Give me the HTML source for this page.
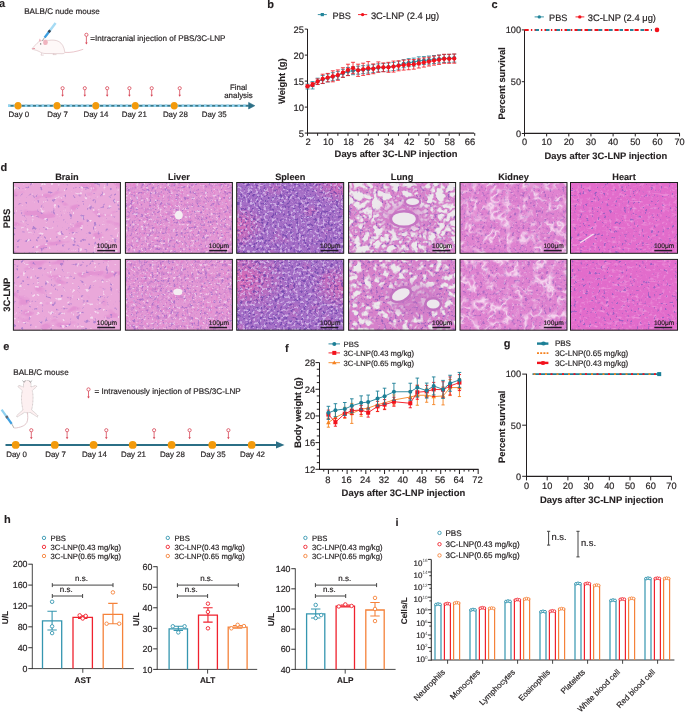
<!DOCTYPE html>
<html><head><meta charset="utf-8"><style>
html,body{margin:0;padding:0;background:#fff;}
svg{display:block;font-family:"Liberation Sans", sans-serif;will-change:transform;text-rendering:geometricPrecision;}
</style></head><body>
<svg width="685" height="715" viewBox="0 0 685 715">
<defs><filter id="soft3" x="-30%" y="-30%" width="160%" height="160%"><feGaussianBlur stdDeviation="3"/></filter><filter id="softb" x="-5%" y="-5%" width="110%" height="110%"><feGaussianBlur stdDeviation="0.45"/></filter><clipPath id="cp00"><rect x="13.4" y="182.5" width="107.0" height="70.8"/></clipPath><filter id="f1" filterUnits="userSpaceOnUse" x="11.4" y="180.5" width="111.0" height="74.8" color-interpolation-filters="sRGB"><feTurbulence type="fractalNoise" baseFrequency="0.06 0.1" numOctaves="2" seed="11"/><feColorMatrix type="matrix" values="0 0 0 0 0.878 0 0 0 0 0.529 0 0 0 0 0.816 8.000 0 0 0 -4.800"/></filter><filter id="f2" filterUnits="userSpaceOnUse" x="11.4" y="180.5" width="111.0" height="74.8" color-interpolation-filters="sRGB"><feTurbulence type="fractalNoise" baseFrequency="0.247" numOctaves="2" seed="12"/><feColorMatrix type="matrix" values="0 0 0 0 0.647 0 0 0 0 0.471 0 0 0 0 0.804 8.000 0 0 0 -5.120"/></filter><filter id="f3" filterUnits="userSpaceOnUse" x="11.4" y="180.5" width="111.0" height="74.8" color-interpolation-filters="sRGB"><feTurbulence type="fractalNoise" baseFrequency="0.225" numOctaves="2" seed="13"/><feColorMatrix type="matrix" values="0 0 0 0 0.980 0 0 0 0 0.933 0 0 0 0 0.973 9.000 0 0 0 -6.030"/></filter><clipPath id="cp10"><rect x="125.4" y="182.5" width="107.0" height="70.8"/></clipPath><filter id="f4" filterUnits="userSpaceOnUse" x="123.4" y="180.5" width="111.0" height="74.8" color-interpolation-filters="sRGB"><feTurbulence type="fractalNoise" baseFrequency="0.25" numOctaves="2" seed="11"/><feColorMatrix type="matrix" values="0 0 0 0 0.725 0 0 0 0 0.451 0 0 0 0 0.784 5.000 0 0 0 -2.750"/></filter><filter id="f5" filterUnits="userSpaceOnUse" x="123.4" y="180.5" width="111.0" height="74.8" color-interpolation-filters="sRGB"><feTurbulence type="fractalNoise" baseFrequency="0.375" numOctaves="2" seed="14"/><feColorMatrix type="matrix" values="0 0 0 0 0.910 0 0 0 0 0.471 0 0 0 0 0.784 6.000 0 0 0 -3.360"/></filter><filter id="f6" filterUnits="userSpaceOnUse" x="123.4" y="180.5" width="111.0" height="74.8" color-interpolation-filters="sRGB"><feTurbulence type="fractalNoise" baseFrequency="0.375" numOctaves="2" seed="12"/><feColorMatrix type="matrix" values="0 0 0 0 0.627 0 0 0 0 0.412 0 0 0 0 0.784 6.000 0 0 0 -3.480"/></filter><filter id="f7" filterUnits="userSpaceOnUse" x="123.4" y="180.5" width="111.0" height="74.8" color-interpolation-filters="sRGB"><feTurbulence type="fractalNoise" baseFrequency="0.375" numOctaves="2" seed="13"/><feColorMatrix type="matrix" values="0 0 0 0 0.965 0 0 0 0 0.886 0 0 0 0 0.957 6.000 0 0 0 -3.600"/></filter><clipPath id="cp20"><rect x="236.7" y="182.5" width="107.0" height="70.8"/></clipPath><radialGradient id="spg0a" cx="0" cy="0.6" r="0.28" gradientTransform="translate(0 0) scale(1 1)"><stop offset="0" stop-color="#e46cb4" stop-opacity="0.95"/><stop offset="1" stop-color="#e46cb4" stop-opacity="0"/></radialGradient><radialGradient id="spg0b" cx="1" cy="0" r="0.35"><stop offset="0" stop-color="#e46cb4" stop-opacity="0.85"/><stop offset="1" stop-color="#e46cb4" stop-opacity="0"/></radialGradient><filter id="f8" filterUnits="userSpaceOnUse" x="234.7" y="180.5" width="111.0" height="74.8" color-interpolation-filters="sRGB"><feTurbulence type="fractalNoise" baseFrequency="0.06" numOctaves="2" seed="11"/><feColorMatrix type="matrix" values="0 0 0 0 0.882 0 0 0 0 0.431 0 0 0 0 0.725 4.000 0 0 0 -2.400"/></filter><filter id="f9" filterUnits="userSpaceOnUse" x="234.7" y="180.5" width="111.0" height="74.8" color-interpolation-filters="sRGB"><feTurbulence type="fractalNoise" baseFrequency="0.375" numOctaves="2" seed="12"/><feColorMatrix type="matrix" values="0 0 0 0 0.412 0 0 0 0 0.255 0 0 0 0 0.667 6.000 0 0 0 -3.180"/></filter><filter id="f10" filterUnits="userSpaceOnUse" x="234.7" y="180.5" width="111.0" height="74.8" color-interpolation-filters="sRGB"><feTurbulence type="fractalNoise" baseFrequency="0.375" numOctaves="2" seed="13"/><feColorMatrix type="matrix" values="0 0 0 0 0.871 0 0 0 0 0.776 0 0 0 0 0.941 6.000 0 0 0 -3.180"/></filter><clipPath id="cp30"><rect x="348.6" y="182.5" width="107.0" height="70.8"/></clipPath><filter id="f11" filterUnits="userSpaceOnUse" x="346.6" y="180.5" width="111.0" height="74.8" color-interpolation-filters="sRGB"><feTurbulence type="fractalNoise" baseFrequency="0.375" numOctaves="2" seed="14"/><feColorMatrix type="matrix" values="0 0 0 0 0.910 0 0 0 0 0.471 0 0 0 0 0.765 6.000 0 0 0 -3.360"/></filter><filter id="f12" filterUnits="userSpaceOnUse" x="346.6" y="180.5" width="111.0" height="74.8" color-interpolation-filters="sRGB"><feTurbulence type="fractalNoise" baseFrequency="0.375" numOctaves="2" seed="12"/><feColorMatrix type="matrix" values="0 0 0 0 0.549 0 0 0 0 0.353 0 0 0 0 0.737 6.000 0 0 0 -3.420"/></filter><filter id="f13" filterUnits="userSpaceOnUse" x="346.6" y="180.5" width="111.0" height="74.8" color-interpolation-filters="sRGB"><feTurbulence type="fractalNoise" baseFrequency="0.11" numOctaves="3" seed="11"/><feColorMatrix type="matrix" values="0 0 0 0 0.925 0 0 0 0 0.91 0 0 0 0 0.925 1 0 0 0 0"/><feComponentTransfer><feFuncA type="table" tableValues="1 1 1 1 1 1 0.5 0 0 0.5 1 1 1 1 1 1"/></feComponentTransfer></filter><clipPath id="cp40"><rect x="460.0" y="182.5" width="107.0" height="70.8"/></clipPath><filter id="f14" filterUnits="userSpaceOnUse" x="458.0" y="180.5" width="111.0" height="74.8" color-interpolation-filters="sRGB"><feTurbulence type="fractalNoise" baseFrequency="0.25" numOctaves="2" seed="14"/><feColorMatrix type="matrix" values="0 0 0 0 0.784 0 0 0 0 0.431 0 0 0 0 0.784 5.000 0 0 0 -2.700"/></filter><filter id="f15" filterUnits="userSpaceOnUse" x="458.0" y="180.5" width="111.0" height="74.8" color-interpolation-filters="sRGB"><feTurbulence type="fractalNoise" baseFrequency="0.375" numOctaves="2" seed="12"/><feColorMatrix type="matrix" values="0 0 0 0 0.588 0 0 0 0 0.373 0 0 0 0 0.745 6.000 0 0 0 -3.480"/></filter><filter id="f16" filterUnits="userSpaceOnUse" x="458.0" y="180.5" width="111.0" height="74.8" color-interpolation-filters="sRGB"><feTurbulence type="fractalNoise" baseFrequency="0.12" numOctaves="2" seed="11"/><feColorMatrix type="matrix" values="0 0 0 0 0.98 0 0 0 0 0.9 0 0 0 0 0.96 1 0 0 0 0"/><feComponentTransfer result="band"><feFuncA type="table" tableValues="0 0 0 0 0 0.35 0.85 0.35 0 0 0 0 0"/></feComponentTransfer><feTurbulence type="fractalNoise" baseFrequency="0.09" numOctaves="1" seed="15"/><feColorMatrix type="matrix" values="0 0 0 0 0 0 0 0 0 0 0 0 0 0 0 6 0 0 0 -2.6" result="m2"/><feComposite in="band" in2="m2" operator="in"/></filter><filter id="f17" filterUnits="userSpaceOnUse" x="458.0" y="180.5" width="111.0" height="74.8" color-interpolation-filters="sRGB"><feTurbulence type="fractalNoise" baseFrequency="0.375" numOctaves="2" seed="13"/><feColorMatrix type="matrix" values="0 0 0 0 0.941 0 0 0 0 0.824 0 0 0 0 0.933 6.000 0 0 0 -3.720"/></filter><clipPath id="cp50"><rect x="570.5" y="182.5" width="107.0" height="70.8"/></clipPath><filter id="f18" filterUnits="userSpaceOnUse" x="568.5" y="180.5" width="111.0" height="74.8" color-interpolation-filters="sRGB"><feTurbulence type="fractalNoise" baseFrequency="0.338" numOctaves="2" seed="13"/><feColorMatrix type="matrix" values="0 0 0 0 0.941 0 0 0 0 0.627 0 0 0 0 0.882 5.000 0 0 0 -2.750"/></filter><filter id="f19" filterUnits="userSpaceOnUse" x="568.5" y="180.5" width="111.0" height="74.8" color-interpolation-filters="sRGB"><feTurbulence type="fractalNoise" baseFrequency="0.1 0.3" numOctaves="2" seed="11"/><feColorMatrix type="matrix" values="0 0 0 0 0.957 0 0 0 0 0.706 0 0 0 0 0.902 6.000 0 0 0 -3.840"/></filter><filter id="f20" filterUnits="userSpaceOnUse" x="568.5" y="180.5" width="111.0" height="74.8" color-interpolation-filters="sRGB"><feTurbulence type="fractalNoise" baseFrequency="0.338" numOctaves="2" seed="12"/><feColorMatrix type="matrix" values="0 0 0 0 0.549 0 0 0 0 0.373 0 0 0 0 0.765 9.000 0 0 0 -5.760"/></filter><clipPath id="cp01"><rect x="13.4" y="259.4" width="107.0" height="70.8"/></clipPath><filter id="f21" filterUnits="userSpaceOnUse" x="11.4" y="257.4" width="111.0" height="74.8" color-interpolation-filters="sRGB"><feTurbulence type="fractalNoise" baseFrequency="0.06 0.1" numOctaves="2" seed="18"/><feColorMatrix type="matrix" values="0 0 0 0 0.878 0 0 0 0 0.529 0 0 0 0 0.816 8.000 0 0 0 -4.800"/></filter><filter id="f22" filterUnits="userSpaceOnUse" x="11.4" y="257.4" width="111.0" height="74.8" color-interpolation-filters="sRGB"><feTurbulence type="fractalNoise" baseFrequency="0.247" numOctaves="2" seed="19"/><feColorMatrix type="matrix" values="0 0 0 0 0.647 0 0 0 0 0.471 0 0 0 0 0.804 8.000 0 0 0 -5.120"/></filter><filter id="f23" filterUnits="userSpaceOnUse" x="11.4" y="257.4" width="111.0" height="74.8" color-interpolation-filters="sRGB"><feTurbulence type="fractalNoise" baseFrequency="0.225" numOctaves="2" seed="20"/><feColorMatrix type="matrix" values="0 0 0 0 0.980 0 0 0 0 0.933 0 0 0 0 0.973 9.000 0 0 0 -6.030"/></filter><clipPath id="cp11"><rect x="125.4" y="259.4" width="107.0" height="70.8"/></clipPath><filter id="f24" filterUnits="userSpaceOnUse" x="123.4" y="257.4" width="111.0" height="74.8" color-interpolation-filters="sRGB"><feTurbulence type="fractalNoise" baseFrequency="0.25" numOctaves="2" seed="18"/><feColorMatrix type="matrix" values="0 0 0 0 0.725 0 0 0 0 0.451 0 0 0 0 0.784 5.000 0 0 0 -2.750"/></filter><filter id="f25" filterUnits="userSpaceOnUse" x="123.4" y="257.4" width="111.0" height="74.8" color-interpolation-filters="sRGB"><feTurbulence type="fractalNoise" baseFrequency="0.375" numOctaves="2" seed="21"/><feColorMatrix type="matrix" values="0 0 0 0 0.910 0 0 0 0 0.471 0 0 0 0 0.784 6.000 0 0 0 -3.360"/></filter><filter id="f26" filterUnits="userSpaceOnUse" x="123.4" y="257.4" width="111.0" height="74.8" color-interpolation-filters="sRGB"><feTurbulence type="fractalNoise" baseFrequency="0.375" numOctaves="2" seed="19"/><feColorMatrix type="matrix" values="0 0 0 0 0.627 0 0 0 0 0.412 0 0 0 0 0.784 6.000 0 0 0 -3.480"/></filter><filter id="f27" filterUnits="userSpaceOnUse" x="123.4" y="257.4" width="111.0" height="74.8" color-interpolation-filters="sRGB"><feTurbulence type="fractalNoise" baseFrequency="0.375" numOctaves="2" seed="20"/><feColorMatrix type="matrix" values="0 0 0 0 0.965 0 0 0 0 0.886 0 0 0 0 0.957 6.000 0 0 0 -3.600"/></filter><clipPath id="cp21"><rect x="236.7" y="259.4" width="107.0" height="70.8"/></clipPath><radialGradient id="spg1a" cx="0.05" cy="0.3" r="0.42"><stop offset="0" stop-color="#e46cb4" stop-opacity="0.9"/><stop offset="1" stop-color="#e46cb4" stop-opacity="0"/></radialGradient><radialGradient id="spg1b" cx="1" cy="0.4" r="0.32"><stop offset="0" stop-color="#e46cb4" stop-opacity="0.8"/><stop offset="1" stop-color="#e46cb4" stop-opacity="0"/></radialGradient><filter id="f28" filterUnits="userSpaceOnUse" x="234.7" y="257.4" width="111.0" height="74.8" color-interpolation-filters="sRGB"><feTurbulence type="fractalNoise" baseFrequency="0.06" numOctaves="2" seed="18"/><feColorMatrix type="matrix" values="0 0 0 0 0.882 0 0 0 0 0.431 0 0 0 0 0.725 4.000 0 0 0 -2.400"/></filter><filter id="f29" filterUnits="userSpaceOnUse" x="234.7" y="257.4" width="111.0" height="74.8" color-interpolation-filters="sRGB"><feTurbulence type="fractalNoise" baseFrequency="0.375" numOctaves="2" seed="19"/><feColorMatrix type="matrix" values="0 0 0 0 0.412 0 0 0 0 0.255 0 0 0 0 0.667 6.000 0 0 0 -3.180"/></filter><filter id="f30" filterUnits="userSpaceOnUse" x="234.7" y="257.4" width="111.0" height="74.8" color-interpolation-filters="sRGB"><feTurbulence type="fractalNoise" baseFrequency="0.375" numOctaves="2" seed="20"/><feColorMatrix type="matrix" values="0 0 0 0 0.871 0 0 0 0 0.776 0 0 0 0 0.941 6.000 0 0 0 -3.180"/></filter><clipPath id="cp31"><rect x="348.6" y="259.4" width="107.0" height="70.8"/></clipPath><filter id="f31" filterUnits="userSpaceOnUse" x="346.6" y="257.4" width="111.0" height="74.8" color-interpolation-filters="sRGB"><feTurbulence type="fractalNoise" baseFrequency="0.375" numOctaves="2" seed="21"/><feColorMatrix type="matrix" values="0 0 0 0 0.910 0 0 0 0 0.471 0 0 0 0 0.765 6.000 0 0 0 -3.360"/></filter><filter id="f32" filterUnits="userSpaceOnUse" x="346.6" y="257.4" width="111.0" height="74.8" color-interpolation-filters="sRGB"><feTurbulence type="fractalNoise" baseFrequency="0.375" numOctaves="2" seed="19"/><feColorMatrix type="matrix" values="0 0 0 0 0.549 0 0 0 0 0.353 0 0 0 0 0.737 6.000 0 0 0 -3.420"/></filter><filter id="f33" filterUnits="userSpaceOnUse" x="346.6" y="257.4" width="111.0" height="74.8" color-interpolation-filters="sRGB"><feTurbulence type="fractalNoise" baseFrequency="0.11" numOctaves="3" seed="18"/><feColorMatrix type="matrix" values="0 0 0 0 0.925 0 0 0 0 0.91 0 0 0 0 0.925 1 0 0 0 0"/><feComponentTransfer><feFuncA type="table" tableValues="1 1 1 1 1 0.5 0 0 0 0.5 1 1 1 1 1"/></feComponentTransfer></filter><clipPath id="cp41"><rect x="460.0" y="259.4" width="107.0" height="70.8"/></clipPath><filter id="f34" filterUnits="userSpaceOnUse" x="458.0" y="257.4" width="111.0" height="74.8" color-interpolation-filters="sRGB"><feTurbulence type="fractalNoise" baseFrequency="0.25" numOctaves="2" seed="21"/><feColorMatrix type="matrix" values="0 0 0 0 0.784 0 0 0 0 0.431 0 0 0 0 0.784 5.000 0 0 0 -2.700"/></filter><filter id="f35" filterUnits="userSpaceOnUse" x="458.0" y="257.4" width="111.0" height="74.8" color-interpolation-filters="sRGB"><feTurbulence type="fractalNoise" baseFrequency="0.375" numOctaves="2" seed="19"/><feColorMatrix type="matrix" values="0 0 0 0 0.588 0 0 0 0 0.373 0 0 0 0 0.745 6.000 0 0 0 -3.480"/></filter><filter id="f36" filterUnits="userSpaceOnUse" x="458.0" y="257.4" width="111.0" height="74.8" color-interpolation-filters="sRGB"><feTurbulence type="fractalNoise" baseFrequency="0.12" numOctaves="2" seed="18"/><feColorMatrix type="matrix" values="0 0 0 0 0.98 0 0 0 0 0.9 0 0 0 0 0.96 1 0 0 0 0"/><feComponentTransfer result="band"><feFuncA type="table" tableValues="0 0 0 0 0 0.35 0.85 0.35 0 0 0 0 0"/></feComponentTransfer><feTurbulence type="fractalNoise" baseFrequency="0.09" numOctaves="1" seed="22"/><feColorMatrix type="matrix" values="0 0 0 0 0 0 0 0 0 0 0 0 0 0 0 6 0 0 0 -2.6" result="m2"/><feComposite in="band" in2="m2" operator="in"/></filter><filter id="f37" filterUnits="userSpaceOnUse" x="458.0" y="257.4" width="111.0" height="74.8" color-interpolation-filters="sRGB"><feTurbulence type="fractalNoise" baseFrequency="0.375" numOctaves="2" seed="20"/><feColorMatrix type="matrix" values="0 0 0 0 0.941 0 0 0 0 0.824 0 0 0 0 0.933 6.000 0 0 0 -3.720"/></filter><clipPath id="cp51"><rect x="570.5" y="259.4" width="107.0" height="70.8"/></clipPath><filter id="f38" filterUnits="userSpaceOnUse" x="568.5" y="257.4" width="111.0" height="74.8" color-interpolation-filters="sRGB"><feTurbulence type="fractalNoise" baseFrequency="0.338" numOctaves="2" seed="20"/><feColorMatrix type="matrix" values="0 0 0 0 0.941 0 0 0 0 0.627 0 0 0 0 0.882 5.000 0 0 0 -2.750"/></filter><filter id="f39" filterUnits="userSpaceOnUse" x="568.5" y="257.4" width="111.0" height="74.8" color-interpolation-filters="sRGB"><feTurbulence type="fractalNoise" baseFrequency="0.1 0.3" numOctaves="2" seed="18"/><feColorMatrix type="matrix" values="0 0 0 0 0.957 0 0 0 0 0.706 0 0 0 0 0.902 6.000 0 0 0 -3.840"/></filter><filter id="f40" filterUnits="userSpaceOnUse" x="568.5" y="257.4" width="111.0" height="74.8" color-interpolation-filters="sRGB"><feTurbulence type="fractalNoise" baseFrequency="0.338" numOctaves="2" seed="19"/><feColorMatrix type="matrix" values="0 0 0 0 0.549 0 0 0 0 0.373 0 0 0 0 0.765 9.000 0 0 0 -5.760"/></filter></defs>
<rect width="685" height="715" fill="#fff"/>
<text x="-1.00" y="6.60" font-size="11" font-weight="bold" stroke="#231f20" stroke-width="0.12" text-anchor="start" fill="#231f20">a</text>
<text x="267.30" y="7.90" font-size="11" font-weight="bold" stroke="#231f20" stroke-width="0.12" text-anchor="start" fill="#231f20">b</text>
<text x="491.60" y="8.00" font-size="11" font-weight="bold" stroke="#231f20" stroke-width="0.12" text-anchor="start" fill="#231f20">c</text>
<text x="0.40" y="171.00" font-size="11" font-weight="bold" stroke="#231f20" stroke-width="0.12" text-anchor="start" fill="#231f20">d</text>
<text x="3.20" y="350.20" font-size="11" font-weight="bold" stroke="#231f20" stroke-width="0.12" text-anchor="start" fill="#231f20">e</text>
<text x="284.90" y="352.10" font-size="11" font-weight="bold" stroke="#231f20" stroke-width="0.12" text-anchor="start" fill="#231f20">f</text>
<text x="503.80" y="346.60" font-size="11" font-weight="bold" stroke="#231f20" stroke-width="0.12" text-anchor="start" fill="#231f20">g</text>
<text x="4.00" y="523.20" font-size="11" font-weight="bold" stroke="#231f20" stroke-width="0.12" text-anchor="start" fill="#231f20">h</text>
<text x="395.60" y="525.70" font-size="11" font-weight="bold" stroke="#231f20" stroke-width="0.12" text-anchor="start" fill="#231f20">i</text>
<text x="24.20" y="14.00" font-size="8.1" stroke="#231f20" stroke-width="0.18" text-anchor="start" fill="#231f20">BALB/C nude mouse</text>
<circle cx="86.40" cy="34.80" r="1.6" fill="none" stroke="#d84858" stroke-width="0.8"/>
<line x1="86.40" y1="36.40" x2="86.40" y2="43.40" stroke="#d84858" stroke-width="0.8"/>
<path d="M85.10 42.60 L87.70 42.60 L86.40 44.60Z" fill="#d84858"/>
<text x="90.30" y="41.10" font-size="8.1" stroke="#231f20" stroke-width="0.18" text-anchor="start" fill="#231f20">=Intracranial injection of PBS/3C-LNP</text>
<g stroke="#c9a3a8" stroke-width="0.45" fill="#fef8f8">
<path d="M31.9 48.9 C34 46.5 36.5 43.5 39 41.6 C42 40.2 46 40.0 48.5 40.4 C52 39.8 56 39.9 59 41.6 C62 43.3 64.2 47 64.9 52.6 C64.5 53.4 63.5 53.7 62 53.7 L45 53.5 C43 53.4 41 52.8 39.4 51.6 C37.5 50.6 35.5 49.9 33.5 49.6 Z"/>
<path d="M65.2 52.4 C70 52.8 76 51.8 83.2 49.3" fill="none" stroke="#dba0a8" stroke-width="0.6"/>
<path d="M41.6 53.2 L41 55.2 L43.8 55.1 M53.6 53.6 L53 54.6 L56.5 54.6" fill="none"/>
</g>
<ellipse cx="45.5" cy="42.4" rx="2.3" ry="2.6" fill="#f0b4bf"/>
<path d="M38.8 41.3 L39.6 38.6 L41.4 40.8Z" fill="#f0b4bf"/>
<circle cx="40.7" cy="43.9" r="0.6" fill="#444"/>
<path d="M32.3 48.8 L35 48.4" stroke="#e48a9a" stroke-width="0.9"/>
<line x1="55.6" y1="23.1" x2="49.6" y2="31.0" stroke="#a6dbf4" stroke-width="2.4"/>
<line x1="49.6" y1="31.0" x2="44.6" y2="37.6" stroke="#3d9fe0" stroke-width="2.4"/>
<line x1="50.2" y1="30.2" x2="48.6" y2="32.3" stroke="#3a4a5a" stroke-width="2.5"/>
<line x1="44.6" y1="37.6" x2="42.3" y2="40.7" stroke="#777" stroke-width="0.7"/>

<line x1="8.00" y1="105.70" x2="249.00" y2="105.70" stroke="#357a8e" stroke-width="2.0"/>
<line x1="8" y1="105.7" x2="249" y2="105.7" stroke="#8fd3ef" stroke-width="2.6" stroke-dasharray="2.5 3.1"/>
<path d="M248.6 102.4 L254.8 105.7 L248.6 109.0Z" fill="#2b6f86" stroke="#2b6f86" stroke-width="0.6" stroke-linejoin="round"/>
<ellipse cx="18" cy="105.7" rx="3.5" ry="3.8" fill="#f39a0b"/>
<ellipse cx="57" cy="105.7" rx="3.5" ry="3.8" fill="#f39a0b"/>
<ellipse cx="95.8" cy="105.7" rx="3.5" ry="3.8" fill="#f39a0b"/>
<ellipse cx="135.3" cy="105.7" rx="3.5" ry="3.8" fill="#f39a0b"/>
<ellipse cx="174.2" cy="105.7" rx="3.5" ry="3.8" fill="#f39a0b"/>
<text x="18.90" y="117.00" font-size="7.9" stroke="#231f20" stroke-width="0.18" text-anchor="middle" fill="#231f20">Day 0</text>
<text x="57.50" y="117.00" font-size="7.9" stroke="#231f20" stroke-width="0.18" text-anchor="middle" fill="#231f20">Day 7</text>
<text x="96.00" y="117.00" font-size="7.9" stroke="#231f20" stroke-width="0.18" text-anchor="middle" fill="#231f20">Day 14</text>
<text x="134.30" y="117.00" font-size="7.9" stroke="#231f20" stroke-width="0.18" text-anchor="middle" fill="#231f20">Day 21</text>
<text x="175.40" y="117.00" font-size="7.9" stroke="#231f20" stroke-width="0.18" text-anchor="middle" fill="#231f20">Day 28</text>
<text x="214.20" y="117.00" font-size="7.9" stroke="#231f20" stroke-width="0.18" text-anchor="middle" fill="#231f20">Day 35</text>
<circle cx="62.60" cy="88.20" r="1.6" fill="none" stroke="#d84858" stroke-width="0.8"/>
<line x1="62.60" y1="89.80" x2="62.60" y2="95.50" stroke="#d84858" stroke-width="0.8"/>
<path d="M61.30 94.70 L63.90 94.70 L62.60 96.70Z" fill="#d84858"/>
<circle cx="84.80" cy="88.20" r="1.6" fill="none" stroke="#d84858" stroke-width="0.8"/>
<line x1="84.80" y1="89.80" x2="84.80" y2="95.50" stroke="#d84858" stroke-width="0.8"/>
<path d="M83.50 94.70 L86.10 94.70 L84.80 96.70Z" fill="#d84858"/>
<circle cx="107.20" cy="88.20" r="1.6" fill="none" stroke="#d84858" stroke-width="0.8"/>
<line x1="107.20" y1="89.80" x2="107.20" y2="95.50" stroke="#d84858" stroke-width="0.8"/>
<path d="M105.90 94.70 L108.50 94.70 L107.20 96.70Z" fill="#d84858"/>
<circle cx="129.40" cy="88.20" r="1.6" fill="none" stroke="#d84858" stroke-width="0.8"/>
<line x1="129.40" y1="89.80" x2="129.40" y2="95.50" stroke="#d84858" stroke-width="0.8"/>
<path d="M128.10 94.70 L130.70 94.70 L129.40 96.70Z" fill="#d84858"/>
<circle cx="151.70" cy="88.20" r="1.6" fill="none" stroke="#d84858" stroke-width="0.8"/>
<line x1="151.70" y1="89.80" x2="151.70" y2="95.50" stroke="#d84858" stroke-width="0.8"/>
<path d="M150.40 94.70 L153.00 94.70 L151.70 96.70Z" fill="#d84858"/>
<circle cx="179.70" cy="88.20" r="1.6" fill="none" stroke="#d84858" stroke-width="0.8"/>
<line x1="179.70" y1="89.80" x2="179.70" y2="95.50" stroke="#d84858" stroke-width="0.8"/>
<path d="M178.40 94.70 L181.00 94.70 L179.70 96.70Z" fill="#d84858"/>
<text x="238.50" y="89.70" font-size="7.9" stroke="#231f20" stroke-width="0.18" text-anchor="middle" fill="#231f20">Final</text>
<text x="238.50" y="97.50" font-size="7.9" stroke="#231f20" stroke-width="0.18" text-anchor="middle" fill="#231f20">analysis</text>
<line x1="307.50" y1="29.00" x2="307.50" y2="133.70" stroke="#231f20" stroke-width="1.0"/>
<line x1="307.00" y1="133.10" x2="474.10" y2="133.10" stroke="#231f20" stroke-width="1.2"/>
<line x1="304.80" y1="133.10" x2="307.50" y2="133.10" stroke="#231f20" stroke-width="1.0"/>
<text x="303.90" y="136.50" font-size="9.4" stroke="#231f20" stroke-width="0.18" text-anchor="end" fill="#231f20">5</text>
<line x1="304.80" y1="107.10" x2="307.50" y2="107.10" stroke="#231f20" stroke-width="1.0"/>
<text x="303.90" y="110.50" font-size="9.4" stroke="#231f20" stroke-width="0.18" text-anchor="end" fill="#231f20">10</text>
<line x1="304.80" y1="81.10" x2="307.50" y2="81.10" stroke="#231f20" stroke-width="1.0"/>
<text x="303.90" y="84.50" font-size="9.4" stroke="#231f20" stroke-width="0.18" text-anchor="end" fill="#231f20">15</text>
<line x1="304.80" y1="55.10" x2="307.50" y2="55.10" stroke="#231f20" stroke-width="1.0"/>
<text x="303.90" y="58.50" font-size="9.4" stroke="#231f20" stroke-width="0.18" text-anchor="end" fill="#231f20">20</text>
<line x1="304.80" y1="29.10" x2="307.50" y2="29.10" stroke="#231f20" stroke-width="1.0"/>
<text x="303.90" y="32.50" font-size="9.4" stroke="#231f20" stroke-width="0.18" text-anchor="end" fill="#231f20">25</text>
<line x1="307.50" y1="133.10" x2="307.50" y2="135.80" stroke="#231f20" stroke-width="1.0"/>
<line x1="317.62" y1="133.10" x2="317.62" y2="135.80" stroke="#231f20" stroke-width="1.0"/>
<line x1="327.74" y1="133.10" x2="327.74" y2="135.80" stroke="#231f20" stroke-width="1.0"/>
<line x1="337.86" y1="133.10" x2="337.86" y2="135.80" stroke="#231f20" stroke-width="1.0"/>
<line x1="347.98" y1="133.10" x2="347.98" y2="135.80" stroke="#231f20" stroke-width="1.0"/>
<line x1="358.10" y1="133.10" x2="358.10" y2="135.80" stroke="#231f20" stroke-width="1.0"/>
<line x1="368.22" y1="133.10" x2="368.22" y2="135.80" stroke="#231f20" stroke-width="1.0"/>
<line x1="378.34" y1="133.10" x2="378.34" y2="135.80" stroke="#231f20" stroke-width="1.0"/>
<line x1="388.46" y1="133.10" x2="388.46" y2="135.80" stroke="#231f20" stroke-width="1.0"/>
<line x1="398.58" y1="133.10" x2="398.58" y2="135.80" stroke="#231f20" stroke-width="1.0"/>
<line x1="408.70" y1="133.10" x2="408.70" y2="135.80" stroke="#231f20" stroke-width="1.0"/>
<line x1="418.82" y1="133.10" x2="418.82" y2="135.80" stroke="#231f20" stroke-width="1.0"/>
<line x1="428.94" y1="133.10" x2="428.94" y2="135.80" stroke="#231f20" stroke-width="1.0"/>
<line x1="439.06" y1="133.10" x2="439.06" y2="135.80" stroke="#231f20" stroke-width="1.0"/>
<line x1="449.18" y1="133.10" x2="449.18" y2="135.80" stroke="#231f20" stroke-width="1.0"/>
<line x1="459.30" y1="133.10" x2="459.30" y2="135.80" stroke="#231f20" stroke-width="1.0"/>
<line x1="474.73" y1="133.10" x2="474.73" y2="135.80" stroke="#231f20" stroke-width="1.0"/>
<text x="308.10" y="145.00" font-size="9.4" stroke="#231f20" stroke-width="0.18" text-anchor="middle" fill="#231f20">2</text>
<text x="328.34" y="145.00" font-size="9.4" stroke="#231f20" stroke-width="0.18" text-anchor="middle" fill="#231f20">10</text>
<text x="348.58" y="145.00" font-size="9.4" stroke="#231f20" stroke-width="0.18" text-anchor="middle" fill="#231f20">18</text>
<text x="368.82" y="145.00" font-size="9.4" stroke="#231f20" stroke-width="0.18" text-anchor="middle" fill="#231f20">26</text>
<text x="389.06" y="145.00" font-size="9.4" stroke="#231f20" stroke-width="0.18" text-anchor="middle" fill="#231f20">34</text>
<text x="409.30" y="145.00" font-size="9.4" stroke="#231f20" stroke-width="0.18" text-anchor="middle" fill="#231f20">42</text>
<text x="429.54" y="145.00" font-size="9.4" stroke="#231f20" stroke-width="0.18" text-anchor="middle" fill="#231f20">50</text>
<text x="449.78" y="145.00" font-size="9.4" stroke="#231f20" stroke-width="0.18" text-anchor="middle" fill="#231f20">58</text>
<text x="470.02" y="145.00" font-size="9.4" stroke="#231f20" stroke-width="0.18" text-anchor="middle" fill="#231f20">66</text>
<text x="396.00" y="156.60" font-size="9.4" font-weight="bold" stroke="#231f20" stroke-width="0.12" text-anchor="middle" fill="#231f20">Days after 3C-LNP injection</text>
<text x="284.70" y="81.20" font-size="9.4" font-weight="bold" stroke="#231f20" stroke-width="0.12" text-anchor="middle" fill="#231f20" transform="rotate(-90 284.7 81.2)">Weight (g)</text>
<polyline points="307.50,86.56 312.56,85.26 317.62,81.36 322.68,79.54 327.74,77.98 332.80,76.68 337.86,75.38 342.92,73.30 347.98,71.48 353.04,70.70 358.10,70.18 363.16,69.66 368.22,69.14 373.28,68.62 378.34,67.84 383.40,67.58 388.46,67.06 393.52,66.54 398.58,65.24 403.64,63.68 408.70,62.64 413.76,62.12 418.82,60.82 423.88,60.56 428.94,60.04 434.00,59.52 439.06,59.00 444.12,58.48 449.18,58.32 454.24,58.12" fill="none" stroke="#23869b" stroke-width="0.9"/>
<path d="M307.50 84.06V89.06M305.50 84.06H309.50M305.50 89.06H309.50" stroke="#23869b" stroke-width="0.8" fill="none"/>
<circle cx="307.50" cy="86.56" r="2.0" fill="#23869b"/>
<path d="M312.56 81.56V88.96M310.56 81.56H314.56M310.56 88.96H314.56" stroke="#23869b" stroke-width="0.8" fill="none"/>
<circle cx="312.56" cy="85.26" r="2.0" fill="#23869b"/>
<path d="M317.62 78.16V84.56M315.62 78.16H319.62M315.62 84.56H319.62" stroke="#23869b" stroke-width="0.8" fill="none"/>
<circle cx="317.62" cy="81.36" r="2.0" fill="#23869b"/>
<path d="M322.68 75.54V83.54M320.68 75.54H324.68M320.68 83.54H324.68" stroke="#23869b" stroke-width="0.8" fill="none"/>
<circle cx="322.68" cy="79.54" r="2.0" fill="#23869b"/>
<path d="M327.74 73.98V81.98M325.74 73.98H329.74M325.74 81.98H329.74" stroke="#23869b" stroke-width="0.8" fill="none"/>
<circle cx="327.74" cy="77.98" r="2.0" fill="#23869b"/>
<path d="M332.80 72.68V80.68M330.80 72.68H334.80M330.80 80.68H334.80" stroke="#23869b" stroke-width="0.8" fill="none"/>
<circle cx="332.80" cy="76.68" r="2.0" fill="#23869b"/>
<path d="M337.86 71.38V79.38M335.86 71.38H339.86M335.86 79.38H339.86" stroke="#23869b" stroke-width="0.8" fill="none"/>
<circle cx="337.86" cy="75.38" r="2.0" fill="#23869b"/>
<path d="M342.92 69.30V77.30M340.92 69.30H344.92M340.92 77.30H344.92" stroke="#23869b" stroke-width="0.8" fill="none"/>
<circle cx="342.92" cy="73.30" r="2.0" fill="#23869b"/>
<path d="M347.98 67.48V75.48M345.98 67.48H349.98M345.98 75.48H349.98" stroke="#23869b" stroke-width="0.8" fill="none"/>
<circle cx="347.98" cy="71.48" r="2.0" fill="#23869b"/>
<path d="M353.04 66.70V74.70M351.04 66.70H355.04M351.04 74.70H355.04" stroke="#23869b" stroke-width="0.8" fill="none"/>
<circle cx="353.04" cy="70.70" r="2.0" fill="#23869b"/>
<path d="M358.10 66.18V74.18M356.10 66.18H360.10M356.10 74.18H360.10" stroke="#23869b" stroke-width="0.8" fill="none"/>
<circle cx="358.10" cy="70.18" r="2.0" fill="#23869b"/>
<path d="M363.16 65.66V73.66M361.16 65.66H365.16M361.16 73.66H365.16" stroke="#23869b" stroke-width="0.8" fill="none"/>
<circle cx="363.16" cy="69.66" r="2.0" fill="#23869b"/>
<path d="M368.22 65.14V73.14M366.22 65.14H370.22M366.22 73.14H370.22" stroke="#23869b" stroke-width="0.8" fill="none"/>
<circle cx="368.22" cy="69.14" r="2.0" fill="#23869b"/>
<path d="M373.28 64.62V72.62M371.28 64.62H375.28M371.28 72.62H375.28" stroke="#23869b" stroke-width="0.8" fill="none"/>
<circle cx="373.28" cy="68.62" r="2.0" fill="#23869b"/>
<path d="M378.34 63.84V71.84M376.34 63.84H380.34M376.34 71.84H380.34" stroke="#23869b" stroke-width="0.8" fill="none"/>
<circle cx="378.34" cy="67.84" r="2.0" fill="#23869b"/>
<path d="M383.40 63.58V71.58M381.40 63.58H385.40M381.40 71.58H385.40" stroke="#23869b" stroke-width="0.8" fill="none"/>
<circle cx="383.40" cy="67.58" r="2.0" fill="#23869b"/>
<path d="M388.46 63.06V71.06M386.46 63.06H390.46M386.46 71.06H390.46" stroke="#23869b" stroke-width="0.8" fill="none"/>
<circle cx="388.46" cy="67.06" r="2.0" fill="#23869b"/>
<path d="M393.52 62.54V70.54M391.52 62.54H395.52M391.52 70.54H395.52" stroke="#23869b" stroke-width="0.8" fill="none"/>
<circle cx="393.52" cy="66.54" r="2.0" fill="#23869b"/>
<path d="M398.58 61.24V69.24M396.58 61.24H400.58M396.58 69.24H400.58" stroke="#23869b" stroke-width="0.8" fill="none"/>
<circle cx="398.58" cy="65.24" r="2.0" fill="#23869b"/>
<path d="M403.64 59.68V67.68M401.64 59.68H405.64M401.64 67.68H405.64" stroke="#23869b" stroke-width="0.8" fill="none"/>
<circle cx="403.64" cy="63.68" r="2.0" fill="#23869b"/>
<path d="M408.70 58.64V66.64M406.70 58.64H410.70M406.70 66.64H410.70" stroke="#23869b" stroke-width="0.8" fill="none"/>
<circle cx="408.70" cy="62.64" r="2.0" fill="#23869b"/>
<path d="M413.76 58.12V66.12M411.76 58.12H415.76M411.76 66.12H415.76" stroke="#23869b" stroke-width="0.8" fill="none"/>
<circle cx="413.76" cy="62.12" r="2.0" fill="#23869b"/>
<path d="M418.82 56.82V64.82M416.82 56.82H420.82M416.82 64.82H420.82" stroke="#23869b" stroke-width="0.8" fill="none"/>
<circle cx="418.82" cy="60.82" r="2.0" fill="#23869b"/>
<path d="M423.88 56.56V64.56M421.88 56.56H425.88M421.88 64.56H425.88" stroke="#23869b" stroke-width="0.8" fill="none"/>
<circle cx="423.88" cy="60.56" r="2.0" fill="#23869b"/>
<path d="M428.94 56.04V64.04M426.94 56.04H430.94M426.94 64.04H430.94" stroke="#23869b" stroke-width="0.8" fill="none"/>
<circle cx="428.94" cy="60.04" r="2.0" fill="#23869b"/>
<path d="M434.00 55.52V63.52M432.00 55.52H436.00M432.00 63.52H436.00" stroke="#23869b" stroke-width="0.8" fill="none"/>
<circle cx="434.00" cy="59.52" r="2.0" fill="#23869b"/>
<path d="M439.06 55.00V63.00M437.06 55.00H441.06M437.06 63.00H441.06" stroke="#23869b" stroke-width="0.8" fill="none"/>
<circle cx="439.06" cy="59.00" r="2.0" fill="#23869b"/>
<path d="M444.12 54.48V62.48M442.12 54.48H446.12M442.12 62.48H446.12" stroke="#23869b" stroke-width="0.8" fill="none"/>
<circle cx="444.12" cy="58.48" r="2.0" fill="#23869b"/>
<path d="M449.18 54.32V62.32M447.18 54.32H451.18M447.18 62.32H451.18" stroke="#23869b" stroke-width="0.8" fill="none"/>
<circle cx="449.18" cy="58.32" r="2.0" fill="#23869b"/>
<path d="M454.24 54.12V62.12M452.24 54.12H456.24M452.24 62.12H456.24" stroke="#23869b" stroke-width="0.8" fill="none"/>
<circle cx="454.24" cy="58.12" r="2.0" fill="#23869b"/>
<polyline points="307.50,86.30 312.56,84.58 317.62,81.72 322.68,78.81 327.74,77.62 332.80,76.32 337.86,75.12 342.92,72.52 347.98,69.92 353.04,68.00 358.10,70.28 363.16,69.30 368.22,68.10 373.28,68.83 378.34,67.11 383.40,67.32 388.46,67.32 393.52,66.59 398.58,65.81 403.64,65.08 408.70,64.72 413.76,64.36 418.82,63.42 423.88,62.48 428.94,61.60 434.00,60.61 439.06,59.78 444.12,58.79 449.18,58.79 454.24,58.58" fill="none" stroke="#f2121c" stroke-width="0.9"/>
<path d="M307.50 84.80V87.80M305.50 84.80H309.50M305.50 87.80H309.50" stroke="#f2121c" stroke-width="0.8" fill="none"/>
<circle cx="307.50" cy="86.30" r="2.1" fill="#f2121c"/>
<path d="M312.56 82.58V86.58M310.56 82.58H314.56M310.56 86.58H314.56" stroke="#f2121c" stroke-width="0.8" fill="none"/>
<circle cx="312.56" cy="84.58" r="2.1" fill="#f2121c"/>
<path d="M317.62 78.92V84.52M315.62 78.92H319.62M315.62 84.52H319.62" stroke="#f2121c" stroke-width="0.8" fill="none"/>
<circle cx="317.62" cy="81.72" r="2.1" fill="#f2121c"/>
<path d="M322.68 74.21V83.41M320.68 74.21H324.68M320.68 83.41H324.68" stroke="#f2121c" stroke-width="0.8" fill="none"/>
<circle cx="322.68" cy="78.81" r="2.1" fill="#f2121c"/>
<path d="M327.74 73.42V81.82M325.74 73.42H329.74M325.74 81.82H329.74" stroke="#f2121c" stroke-width="0.8" fill="none"/>
<circle cx="327.74" cy="77.62" r="2.1" fill="#f2121c"/>
<path d="M332.80 70.82V81.82M330.80 70.82H334.80M330.80 81.82H334.80" stroke="#f2121c" stroke-width="0.8" fill="none"/>
<circle cx="332.80" cy="76.32" r="2.1" fill="#f2121c"/>
<path d="M337.86 69.92V80.32M335.86 69.92H339.86M335.86 80.32H339.86" stroke="#f2121c" stroke-width="0.8" fill="none"/>
<circle cx="337.86" cy="75.12" r="2.1" fill="#f2121c"/>
<path d="M342.92 67.72V77.32M340.92 67.72H344.92M340.92 77.32H344.92" stroke="#f2121c" stroke-width="0.8" fill="none"/>
<circle cx="342.92" cy="72.52" r="2.1" fill="#f2121c"/>
<path d="M347.98 64.22V75.62M345.98 64.22H349.98M345.98 75.62H349.98" stroke="#f2121c" stroke-width="0.8" fill="none"/>
<circle cx="347.98" cy="69.92" r="2.1" fill="#f2121c"/>
<path d="M353.04 62.30V73.70M351.04 62.30H355.04M351.04 73.70H355.04" stroke="#f2121c" stroke-width="0.8" fill="none"/>
<circle cx="353.04" cy="68.00" r="2.1" fill="#f2121c"/>
<path d="M358.10 64.18V76.38M356.10 64.18H360.10M356.10 76.38H360.10" stroke="#f2121c" stroke-width="0.8" fill="none"/>
<circle cx="358.10" cy="70.28" r="2.1" fill="#f2121c"/>
<path d="M363.16 63.20V75.40M361.16 63.20H365.16M361.16 75.40H365.16" stroke="#f2121c" stroke-width="0.8" fill="none"/>
<circle cx="363.16" cy="69.30" r="2.1" fill="#f2121c"/>
<path d="M368.22 61.60V74.60M366.22 61.60H370.22M366.22 74.60H370.22" stroke="#f2121c" stroke-width="0.8" fill="none"/>
<circle cx="368.22" cy="68.10" r="2.1" fill="#f2121c"/>
<path d="M373.28 63.93V73.73M371.28 63.93H375.28M371.28 73.73H375.28" stroke="#f2121c" stroke-width="0.8" fill="none"/>
<circle cx="373.28" cy="68.83" r="2.1" fill="#f2121c"/>
<path d="M378.34 61.91V72.31M376.34 61.91H380.34M376.34 72.31H380.34" stroke="#f2121c" stroke-width="0.8" fill="none"/>
<circle cx="378.34" cy="67.11" r="2.1" fill="#f2121c"/>
<path d="M383.40 62.92V71.72M381.40 62.92H385.40M381.40 71.72H385.40" stroke="#f2121c" stroke-width="0.8" fill="none"/>
<circle cx="383.40" cy="67.32" r="2.1" fill="#f2121c"/>
<path d="M388.46 62.32V72.32M386.46 62.32H390.46M386.46 72.32H390.46" stroke="#f2121c" stroke-width="0.8" fill="none"/>
<circle cx="388.46" cy="67.32" r="2.1" fill="#f2121c"/>
<path d="M393.52 61.09V72.09M391.52 61.09H395.52M391.52 72.09H395.52" stroke="#f2121c" stroke-width="0.8" fill="none"/>
<circle cx="393.52" cy="66.59" r="2.1" fill="#f2121c"/>
<path d="M398.58 60.81V70.81M396.58 60.81H400.58M396.58 70.81H400.58" stroke="#f2121c" stroke-width="0.8" fill="none"/>
<circle cx="398.58" cy="65.81" r="2.1" fill="#f2121c"/>
<path d="M403.64 60.08V70.08M401.64 60.08H405.64M401.64 70.08H405.64" stroke="#f2121c" stroke-width="0.8" fill="none"/>
<circle cx="403.64" cy="65.08" r="2.1" fill="#f2121c"/>
<path d="M408.70 59.72V69.72M406.70 59.72H410.70M406.70 69.72H410.70" stroke="#f2121c" stroke-width="0.8" fill="none"/>
<circle cx="408.70" cy="64.72" r="2.1" fill="#f2121c"/>
<path d="M413.76 59.56V69.16M411.76 59.56H415.76M411.76 69.16H415.76" stroke="#f2121c" stroke-width="0.8" fill="none"/>
<circle cx="413.76" cy="64.36" r="2.1" fill="#f2121c"/>
<path d="M418.82 58.82V68.02M416.82 58.82H420.82M416.82 68.02H420.82" stroke="#f2121c" stroke-width="0.8" fill="none"/>
<circle cx="418.82" cy="63.42" r="2.1" fill="#f2121c"/>
<path d="M423.88 57.88V67.08M421.88 57.88H425.88M421.88 67.08H425.88" stroke="#f2121c" stroke-width="0.8" fill="none"/>
<circle cx="423.88" cy="62.48" r="2.1" fill="#f2121c"/>
<path d="M428.94 57.20V66.00M426.94 57.20H430.94M426.94 66.00H430.94" stroke="#f2121c" stroke-width="0.8" fill="none"/>
<circle cx="428.94" cy="61.60" r="2.1" fill="#f2121c"/>
<path d="M434.00 56.11V65.11M432.00 56.11H436.00M432.00 65.11H436.00" stroke="#f2121c" stroke-width="0.8" fill="none"/>
<circle cx="434.00" cy="60.61" r="2.1" fill="#f2121c"/>
<path d="M439.06 55.18V64.38M437.06 55.18H441.06M437.06 64.38H441.06" stroke="#f2121c" stroke-width="0.8" fill="none"/>
<circle cx="439.06" cy="59.78" r="2.1" fill="#f2121c"/>
<path d="M444.12 54.29V63.29M442.12 54.29H446.12M442.12 63.29H446.12" stroke="#f2121c" stroke-width="0.8" fill="none"/>
<circle cx="444.12" cy="58.79" r="2.1" fill="#f2121c"/>
<path d="M449.18 54.29V63.29M447.18 54.29H451.18M447.18 63.29H451.18" stroke="#f2121c" stroke-width="0.8" fill="none"/>
<circle cx="449.18" cy="58.79" r="2.1" fill="#f2121c"/>
<path d="M454.24 53.98V63.18M452.24 53.98H456.24M452.24 63.18H456.24" stroke="#f2121c" stroke-width="0.8" fill="none"/>
<circle cx="454.24" cy="58.58" r="2.1" fill="#f2121c"/>
<line x1="317.80" y1="14.60" x2="326.80" y2="14.60" stroke="#23869b" stroke-width="0.9"/>
<rect x="320.7" y="13.0" width="3.2" height="3.2" fill="#23869b"/>
<text x="332.60" y="18.90" font-size="9.2" stroke="#231f20" stroke-width="0.18" text-anchor="start" fill="#231f20">PBS</text>
<line x1="358.00" y1="14.60" x2="367.20" y2="14.60" stroke="#f2121c" stroke-width="0.9"/>
<circle cx="362.6" cy="14.6" r="1.7" fill="#f2121c"/>
<text x="370.90" y="18.90" font-size="9.4" stroke="#231f20" stroke-width="0.18" text-anchor="start" fill="#231f20">3C-LNP (2.4 μg)</text>
<line x1="524.50" y1="29.60" x2="524.50" y2="133.90" stroke="#231f20" stroke-width="1.0"/>
<line x1="524.00" y1="133.40" x2="679.80" y2="133.40" stroke="#231f20" stroke-width="1.2"/>
<line x1="521.80" y1="133.50" x2="524.50" y2="133.50" stroke="#231f20" stroke-width="1.0"/>
<text x="521.00" y="136.80" font-size="9.2" stroke="#231f20" stroke-width="0.18" text-anchor="end" fill="#231f20">0</text>
<line x1="521.80" y1="81.70" x2="524.50" y2="81.70" stroke="#231f20" stroke-width="1.0"/>
<text x="521.00" y="85.00" font-size="9.2" stroke="#231f20" stroke-width="0.18" text-anchor="end" fill="#231f20">50</text>
<line x1="521.80" y1="29.90" x2="524.50" y2="29.90" stroke="#231f20" stroke-width="1.0"/>
<text x="521.00" y="33.20" font-size="9.2" stroke="#231f20" stroke-width="0.18" text-anchor="end" fill="#231f20">100</text>
<line x1="524.50" y1="133.40" x2="524.50" y2="136.40" stroke="#231f20" stroke-width="1.0"/>
<text x="524.50" y="145.30" font-size="9.2" stroke="#231f20" stroke-width="0.18" text-anchor="middle" fill="#231f20">0</text>
<line x1="546.65" y1="133.40" x2="546.65" y2="136.40" stroke="#231f20" stroke-width="1.0"/>
<text x="546.65" y="145.30" font-size="9.2" stroke="#231f20" stroke-width="0.18" text-anchor="middle" fill="#231f20">10</text>
<line x1="568.80" y1="133.40" x2="568.80" y2="136.40" stroke="#231f20" stroke-width="1.0"/>
<text x="568.80" y="145.30" font-size="9.2" stroke="#231f20" stroke-width="0.18" text-anchor="middle" fill="#231f20">20</text>
<line x1="590.95" y1="133.40" x2="590.95" y2="136.40" stroke="#231f20" stroke-width="1.0"/>
<text x="590.95" y="145.30" font-size="9.2" stroke="#231f20" stroke-width="0.18" text-anchor="middle" fill="#231f20">30</text>
<line x1="613.10" y1="133.40" x2="613.10" y2="136.40" stroke="#231f20" stroke-width="1.0"/>
<text x="613.10" y="145.30" font-size="9.2" stroke="#231f20" stroke-width="0.18" text-anchor="middle" fill="#231f20">40</text>
<line x1="635.25" y1="133.40" x2="635.25" y2="136.40" stroke="#231f20" stroke-width="1.0"/>
<text x="635.25" y="145.30" font-size="9.2" stroke="#231f20" stroke-width="0.18" text-anchor="middle" fill="#231f20">50</text>
<line x1="657.40" y1="133.40" x2="657.40" y2="136.40" stroke="#231f20" stroke-width="1.0"/>
<text x="657.40" y="145.30" font-size="9.2" stroke="#231f20" stroke-width="0.18" text-anchor="middle" fill="#231f20">60</text>
<line x1="679.55" y1="133.40" x2="679.55" y2="136.40" stroke="#231f20" stroke-width="1.0"/>
<text x="679.55" y="145.30" font-size="9.2" stroke="#231f20" stroke-width="0.18" text-anchor="middle" fill="#231f20">70</text>
<text x="605.80" y="159.40" font-size="9.4" font-weight="bold" stroke="#231f20" stroke-width="0.12" text-anchor="middle" fill="#231f20">Days after 3C-LNP injection</text>
<text x="505.50" y="83.40" font-size="9.4" font-weight="bold" stroke="#231f20" stroke-width="0.12" text-anchor="middle" fill="#231f20" transform="rotate(-90 505.5 83.4)">Percent survival</text>
<line x1="524.5" y1="29.90" x2="652" y2="29.90" stroke="#f2121c" stroke-width="2" stroke-dasharray="4.2 2.2 1.4 2.2"/>
<line x1="535.5" y1="29.90" x2="652" y2="29.90" stroke="#23869b" stroke-width="2" stroke-dasharray="3.5 7.0" stroke-dashoffset="0"/>
<circle cx="657.0" cy="29.90" r="2.3" fill="#f2121c"/>
<line x1="534.60" y1="16.90" x2="543.90" y2="16.90" stroke="#23869b" stroke-width="0.9"/>
<circle cx="539.3" cy="16.9" r="1.7" fill="#23869b"/>
<text x="549.00" y="20.50" font-size="9.2" stroke="#231f20" stroke-width="0.18" text-anchor="start" fill="#231f20">PBS</text>
<line x1="575.50" y1="16.90" x2="584.30" y2="16.90" stroke="#f2121c" stroke-width="0.9"/>
<circle cx="579.8" cy="16.9" r="1.7" fill="#f2121c"/>
<text x="587.70" y="20.50" font-size="9.4" stroke="#231f20" stroke-width="0.18" text-anchor="start" fill="#231f20">3C-LNP (2.4 μg)</text>
<text x="66.90" y="179.80" font-size="9.2" font-weight="bold" stroke="#231f20" stroke-width="0.12" text-anchor="middle" fill="#231f20">Brain</text>
<text x="178.90" y="179.80" font-size="9.2" font-weight="bold" stroke="#231f20" stroke-width="0.12" text-anchor="middle" fill="#231f20">Liver</text>
<text x="290.20" y="179.80" font-size="9.2" font-weight="bold" stroke="#231f20" stroke-width="0.12" text-anchor="middle" fill="#231f20">Spleen</text>
<text x="402.10" y="179.80" font-size="9.2" font-weight="bold" stroke="#231f20" stroke-width="0.12" text-anchor="middle" fill="#231f20">Lung</text>
<text x="513.50" y="179.80" font-size="9.2" font-weight="bold" stroke="#231f20" stroke-width="0.12" text-anchor="middle" fill="#231f20">Kidney</text>
<text x="624.00" y="179.80" font-size="9.2" font-weight="bold" stroke="#231f20" stroke-width="0.12" text-anchor="middle" fill="#231f20">Heart</text>
<text x="9.70" y="218.40" font-size="9.5" font-weight="bold" stroke="#231f20" stroke-width="0.12" text-anchor="middle" fill="#231f20" transform="rotate(-90 9.7 218.4)">PBS</text>
<text x="9.80" y="294.80" font-size="9.4" font-weight="bold" stroke="#231f20" stroke-width="0.12" text-anchor="middle" fill="#231f20" transform="rotate(-90 9.8 294.8)">3C-LNP</text>
<g clip-path="url(#cp00)"><g filter="url(#softb)">
<rect x="11.4" y="180.5" width="111.0" height="74.8" fill="#eaa8da"/>
<rect x="11.4" y="180.5" width="111.0" height="74.8" filter="url(#f1)" opacity="0.6"/>
<rect x="11.4" y="180.5" width="111.0" height="74.8" filter="url(#f2)" opacity="0.8"/>
<rect x="11.4" y="180.5" width="111.0" height="74.8" filter="url(#f3)" opacity="0.7"/>
</g></g>
<rect x="13.4" y="182.5" width="107.0" height="70.8" fill="none" stroke="#1c1c1c" stroke-width="1.0"/>
<text x="117.10" y="248.30" font-size="6.6" stroke="#231f20" stroke-width="0.18" text-anchor="end" fill="#231f20">100μm</text>
<line x1="97.20" y1="250.60" x2="115.10" y2="250.60" stroke="#241a28" stroke-width="1.5"/>
<g clip-path="url(#cp10)"><g filter="url(#softb)">
<rect x="123.4" y="180.5" width="111.0" height="74.8" fill="#e298d4"/>
<rect x="123.4" y="180.5" width="111.0" height="74.8" filter="url(#f4)" opacity="0.5"/>
<rect x="123.4" y="180.5" width="111.0" height="74.8" filter="url(#f5)" opacity="0.5"/>
<rect x="123.4" y="180.5" width="111.0" height="74.8" filter="url(#f6)" opacity="0.75"/>
<rect x="123.4" y="180.5" width="111.0" height="74.8" filter="url(#f7)" opacity="0.7"/>
<ellipse cx="178.8" cy="215.1" rx="4.0" ry="4.3" fill="#f4eef2"/>
</g></g>
<rect x="125.4" y="182.5" width="107.0" height="70.8" fill="none" stroke="#1c1c1c" stroke-width="1.0"/>
<text x="229.10" y="248.30" font-size="6.6" stroke="#231f20" stroke-width="0.18" text-anchor="end" fill="#231f20">100μm</text>
<line x1="209.20" y1="250.60" x2="227.10" y2="250.60" stroke="#241a28" stroke-width="1.5"/>
<g clip-path="url(#cp20)"><g filter="url(#softb)">
<rect x="234.7" y="180.5" width="111.0" height="74.8" fill="#a56ec6"/>
<rect x="234.7" y="180.5" width="111.0" height="74.8" fill="url(#spg0a)"/>
<rect x="234.7" y="180.5" width="111.0" height="74.8" fill="url(#spg0b)"/>
<rect x="234.7" y="180.5" width="111.0" height="74.8" filter="url(#f8)" opacity="0.4"/>
<rect x="234.7" y="180.5" width="111.0" height="74.8" filter="url(#f9)" opacity="0.75"/>
<rect x="234.7" y="180.5" width="111.0" height="74.8" filter="url(#f10)" opacity="0.75"/>
</g></g>
<rect x="236.7" y="182.5" width="107.0" height="70.8" fill="none" stroke="#1c1c1c" stroke-width="1.0"/>
<text x="340.40" y="248.30" font-size="6.6" stroke="#231f20" stroke-width="0.18" text-anchor="end" fill="#231f20">100μm</text>
<line x1="320.50" y1="250.60" x2="338.40" y2="250.60" stroke="#241a28" stroke-width="1.5"/>
<g clip-path="url(#cp30)"><g filter="url(#softb)">
<rect x="346.6" y="180.5" width="111.0" height="74.8" fill="#d582cb"/>
<rect x="346.6" y="180.5" width="111.0" height="74.8" filter="url(#f11)" opacity="0.5"/>
<rect x="346.6" y="180.5" width="111.0" height="74.8" filter="url(#f12)" opacity="0.8"/>
<rect x="346.6" y="180.5" width="111.0" height="74.8" filter="url(#f13)"/>
<ellipse cx="404" cy="216" rx="24" ry="15" fill="#cf7cc8" opacity="0.45" filter="url(#soft3)"/>
<ellipse cx="404" cy="219" rx="14.5" ry="9" fill="#c575c3"/>
<ellipse cx="404" cy="219" rx="11.8" ry="6.6" fill="#ede8ed"/>
<ellipse cx="412.6" cy="201.7" rx="8.8" ry="5.2" fill="#c575c3"/>
<ellipse cx="412.6" cy="201.7" rx="6.5" ry="3.4" fill="#ede8ed"/>
</g></g>
<rect x="348.6" y="182.5" width="107.0" height="70.8" fill="none" stroke="#1c1c1c" stroke-width="1.0"/>
<text x="452.30" y="248.30" font-size="6.6" stroke="#231f20" stroke-width="0.18" text-anchor="end" fill="#231f20">100μm</text>
<line x1="432.40" y1="250.60" x2="450.30" y2="250.60" stroke="#241a28" stroke-width="1.5"/>
<g clip-path="url(#cp40)"><g filter="url(#softb)">
<rect x="458.0" y="180.5" width="111.0" height="74.8" fill="#e084d0"/>
<rect x="458.0" y="180.5" width="111.0" height="74.8" filter="url(#f14)" opacity="0.45"/>
<rect x="458.0" y="180.5" width="111.0" height="74.8" filter="url(#f15)" opacity="0.65"/>
<rect x="458.0" y="180.5" width="111.0" height="74.8" filter="url(#f16)"/>
<rect x="458.0" y="180.5" width="111.0" height="74.8" filter="url(#f17)" opacity="0.5"/>
</g></g>
<rect x="460.0" y="182.5" width="107.0" height="70.8" fill="none" stroke="#1c1c1c" stroke-width="1.0"/>
<text x="563.70" y="248.30" font-size="6.6" stroke="#231f20" stroke-width="0.18" text-anchor="end" fill="#231f20">100μm</text>
<line x1="543.80" y1="250.60" x2="561.70" y2="250.60" stroke="#241a28" stroke-width="1.5"/>
<g clip-path="url(#cp50)"><g filter="url(#softb)">
<rect x="568.5" y="180.5" width="111.0" height="74.8" fill="#e26ccb"/>
<rect x="568.5" y="180.5" width="111.0" height="74.8" filter="url(#f18)" opacity="0.5"/>
<rect x="568.5" y="180.5" width="111.0" height="74.8" filter="url(#f19)" opacity="0.45"/>
<rect x="568.5" y="180.5" width="111.0" height="74.8" filter="url(#f20)" opacity="0.8"/>
<path d="M580.2 242.7 L593.6 234" stroke="#f6e4f2" stroke-width="1.1"/>
</g></g>
<rect x="570.5" y="182.5" width="107.0" height="70.8" fill="none" stroke="#1c1c1c" stroke-width="1.0"/>
<text x="674.20" y="248.30" font-size="6.6" stroke="#231f20" stroke-width="0.18" text-anchor="end" fill="#231f20">100μm</text>
<line x1="654.30" y1="250.60" x2="672.20" y2="250.60" stroke="#241a28" stroke-width="1.5"/>
<g clip-path="url(#cp01)"><g filter="url(#softb)">
<rect x="11.4" y="257.4" width="111.0" height="74.8" fill="#eaa8da"/>
<rect x="11.4" y="257.4" width="111.0" height="74.8" filter="url(#f21)" opacity="0.6"/>
<rect x="11.4" y="257.4" width="111.0" height="74.8" filter="url(#f22)" opacity="0.8"/>
<rect x="11.4" y="257.4" width="111.0" height="74.8" filter="url(#f23)" opacity="0.7"/>
</g></g>
<rect x="13.4" y="259.4" width="107.0" height="70.8" fill="none" stroke="#1c1c1c" stroke-width="1.0"/>
<text x="117.10" y="325.20" font-size="6.6" stroke="#231f20" stroke-width="0.18" text-anchor="end" fill="#231f20">100μm</text>
<line x1="97.20" y1="327.50" x2="115.10" y2="327.50" stroke="#241a28" stroke-width="1.5"/>
<g clip-path="url(#cp11)"><g filter="url(#softb)">
<rect x="123.4" y="257.4" width="111.0" height="74.8" fill="#e298d4"/>
<rect x="123.4" y="257.4" width="111.0" height="74.8" filter="url(#f24)" opacity="0.5"/>
<rect x="123.4" y="257.4" width="111.0" height="74.8" filter="url(#f25)" opacity="0.5"/>
<rect x="123.4" y="257.4" width="111.0" height="74.8" filter="url(#f26)" opacity="0.75"/>
<rect x="123.4" y="257.4" width="111.0" height="74.8" filter="url(#f27)" opacity="0.7"/>
<ellipse cx="177.8" cy="291.9" rx="4.6" ry="3.2" fill="#f4eef2"/>
</g></g>
<rect x="125.4" y="259.4" width="107.0" height="70.8" fill="none" stroke="#1c1c1c" stroke-width="1.0"/>
<text x="229.10" y="325.20" font-size="6.6" stroke="#231f20" stroke-width="0.18" text-anchor="end" fill="#231f20">100μm</text>
<line x1="209.20" y1="327.50" x2="227.10" y2="327.50" stroke="#241a28" stroke-width="1.5"/>
<g clip-path="url(#cp21)"><g filter="url(#softb)">
<rect x="234.7" y="257.4" width="111.0" height="74.8" fill="#a56ec6"/>
<rect x="234.7" y="257.4" width="111.0" height="74.8" fill="url(#spg1a)"/>
<rect x="234.7" y="257.4" width="111.0" height="74.8" fill="url(#spg1b)"/>
<rect x="234.7" y="257.4" width="111.0" height="74.8" filter="url(#f28)" opacity="0.4"/>
<rect x="234.7" y="257.4" width="111.0" height="74.8" filter="url(#f29)" opacity="0.75"/>
<rect x="234.7" y="257.4" width="111.0" height="74.8" filter="url(#f30)" opacity="0.75"/>
</g></g>
<rect x="236.7" y="259.4" width="107.0" height="70.8" fill="none" stroke="#1c1c1c" stroke-width="1.0"/>
<text x="340.40" y="325.20" font-size="6.6" stroke="#231f20" stroke-width="0.18" text-anchor="end" fill="#231f20">100μm</text>
<line x1="320.50" y1="327.50" x2="338.40" y2="327.50" stroke="#241a28" stroke-width="1.5"/>
<g clip-path="url(#cp31)"><g filter="url(#softb)">
<rect x="346.6" y="257.4" width="111.0" height="74.8" fill="#d582cb"/>
<rect x="346.6" y="257.4" width="111.0" height="74.8" filter="url(#f31)" opacity="0.5"/>
<rect x="346.6" y="257.4" width="111.0" height="74.8" filter="url(#f32)" opacity="0.8"/>
<rect x="346.6" y="257.4" width="111.0" height="74.8" filter="url(#f33)"/>
<ellipse cx="412" cy="298" rx="26" ry="16" fill="#c878c4" opacity="0.45" filter="url(#soft3)"/>
<ellipse cx="400.8" cy="294.5" rx="12" ry="7.8" fill="#c172c0" transform="rotate(-25 400.8 294.5)"/>
<ellipse cx="400.8" cy="294.5" rx="9.5" ry="5.4" fill="#ede8ed" transform="rotate(-25 400.8 294.5)"/>
<ellipse cx="433.2" cy="304" rx="9" ry="7" fill="#c172c0"/>
<ellipse cx="433.2" cy="304" rx="6.5" ry="4.5" fill="#ede8ed"/>
</g></g>
<rect x="348.6" y="259.4" width="107.0" height="70.8" fill="none" stroke="#1c1c1c" stroke-width="1.0"/>
<text x="452.30" y="325.20" font-size="6.6" stroke="#231f20" stroke-width="0.18" text-anchor="end" fill="#231f20">100μm</text>
<line x1="432.40" y1="327.50" x2="450.30" y2="327.50" stroke="#241a28" stroke-width="1.5"/>
<g clip-path="url(#cp41)"><g filter="url(#softb)">
<rect x="458.0" y="257.4" width="111.0" height="74.8" fill="#e084d0"/>
<rect x="458.0" y="257.4" width="111.0" height="74.8" filter="url(#f34)" opacity="0.45"/>
<rect x="458.0" y="257.4" width="111.0" height="74.8" filter="url(#f35)" opacity="0.65"/>
<rect x="458.0" y="257.4" width="111.0" height="74.8" filter="url(#f36)"/>
<rect x="458.0" y="257.4" width="111.0" height="74.8" filter="url(#f37)" opacity="0.5"/>
</g></g>
<rect x="460.0" y="259.4" width="107.0" height="70.8" fill="none" stroke="#1c1c1c" stroke-width="1.0"/>
<text x="563.70" y="325.20" font-size="6.6" stroke="#231f20" stroke-width="0.18" text-anchor="end" fill="#231f20">100μm</text>
<line x1="543.80" y1="327.50" x2="561.70" y2="327.50" stroke="#241a28" stroke-width="1.5"/>
<g clip-path="url(#cp51)"><g filter="url(#softb)">
<rect x="568.5" y="257.4" width="111.0" height="74.8" fill="#e26ccb"/>
<rect x="568.5" y="257.4" width="111.0" height="74.8" filter="url(#f38)" opacity="0.5"/>
<rect x="568.5" y="257.4" width="111.0" height="74.8" filter="url(#f39)" opacity="0.45"/>
<rect x="568.5" y="257.4" width="111.0" height="74.8" filter="url(#f40)" opacity="0.8"/>
</g></g>
<rect x="570.5" y="259.4" width="107.0" height="70.8" fill="none" stroke="#1c1c1c" stroke-width="1.0"/>
<text x="674.20" y="325.20" font-size="6.6" stroke="#231f20" stroke-width="0.18" text-anchor="end" fill="#231f20">100μm</text>
<line x1="654.30" y1="327.50" x2="672.20" y2="327.50" stroke="#241a28" stroke-width="1.5"/>
<text x="13.30" y="375.00" font-size="8.1" stroke="#231f20" stroke-width="0.18" text-anchor="start" fill="#231f20">BALB/C mouse</text>
<g stroke="#8a8080" stroke-width="0.4" stroke-dasharray="0.9 0.5" fill="#fdf0f1">
<path d="M24.2 381.2 C25.5 380.2 28.5 380.2 30.2 381.2 C31 382.5 31.2 384.5 31 387 L35.2 385.6 C36.3 385.3 37 386.3 36.3 387 L32.2 390.6 C32.9 393 33.2 396 33 399.5 C32.9 403 32.4 407 31.6 409.8 L37.6 415.2 C38.4 416 38 417.2 37 416.8 L30 412.3 C28.5 413 26.2 413 24.8 412.3 L17.6 416.8 C16.6 417.2 16.2 416 17 415.2 L23 409.8 C22.2 407 21.6 403 21.5 399.5 C21.4 396 21.7 393 22.4 390.6 L18.3 387 C17.6 386.3 18.3 385.3 19.4 385.6 L23.6 387 C23.4 384.5 23.5 382.5 24.2 381.2Z"/>
</g>
<path d="M27.4 412.6 C27.8 416 28.2 419.5 26.8 422.5 C25 426 20 427.6 14.5 428.1" fill="none" stroke="#d8b8bc" stroke-width="0.8"/>
<path d="M22.3 380.5 L24.3 382.3 L25.5 380.6 M29 380.6 L30.2 382.3 L32.2 380.5" stroke="#666" stroke-width="0.45" fill="none"/>
<line x1="1.6" y1="409.7" x2="6.2" y2="416.2" stroke="#8fd0ef" stroke-width="2.3"/>
<line x1="6.2" y1="416.2" x2="11.7" y2="423.8" stroke="#3d9fe0" stroke-width="2.3"/>
<line x1="6.2" y1="416.0" x2="7.6" y2="418.0" stroke="#5a6a78" stroke-width="2.4"/>
<line x1="11.7" y1="423.8" x2="14.1" y2="428.1" stroke="#777" stroke-width="0.6"/>

<circle cx="88.50" cy="389.40" r="1.6" fill="none" stroke="#d84858" stroke-width="0.8"/>
<line x1="88.50" y1="391.00" x2="88.50" y2="397.30" stroke="#d84858" stroke-width="0.8"/>
<path d="M87.20 396.50 L89.80 396.50 L88.50 398.50Z" fill="#d84858"/>
<text x="94.60" y="394.40" font-size="8.14" stroke="#231f20" stroke-width="0.18" text-anchor="start" fill="#231f20">= Intravenously injection of PBS/3C-LNP</text>
<line x1="5.50" y1="444.90" x2="277.00" y2="444.90" stroke="#2b6f86" stroke-width="2.0"/>
<path d="M276 441.29999999999995 L284.5 444.9 L276 448.5Z" fill="#2b6f86"/>
<circle cx="15.7" cy="444.9" r="3.9" fill="#f39a0b"/>
<circle cx="54.8" cy="444.9" r="3.9" fill="#f39a0b"/>
<circle cx="93.6" cy="444.9" r="3.9" fill="#f39a0b"/>
<circle cx="132.7" cy="444.9" r="3.9" fill="#f39a0b"/>
<circle cx="171.6" cy="444.9" r="3.9" fill="#f39a0b"/>
<circle cx="212.3" cy="444.9" r="3.9" fill="#f39a0b"/>
<circle cx="251.7" cy="444.9" r="3.9" fill="#f39a0b"/>
<text x="16.50" y="456.90" font-size="7.9" stroke="#231f20" stroke-width="0.18" text-anchor="middle" fill="#231f20">Day 0</text>
<text x="55.60" y="456.90" font-size="7.9" stroke="#231f20" stroke-width="0.18" text-anchor="middle" fill="#231f20">Day 7</text>
<text x="94.40" y="456.90" font-size="7.9" stroke="#231f20" stroke-width="0.18" text-anchor="middle" fill="#231f20">Day 14</text>
<text x="133.50" y="456.90" font-size="7.9" stroke="#231f20" stroke-width="0.18" text-anchor="middle" fill="#231f20">Day 21</text>
<text x="172.40" y="456.90" font-size="7.9" stroke="#231f20" stroke-width="0.18" text-anchor="middle" fill="#231f20">Day 28</text>
<text x="213.10" y="456.90" font-size="7.9" stroke="#231f20" stroke-width="0.18" text-anchor="middle" fill="#231f20">Day 35</text>
<text x="252.50" y="456.90" font-size="7.9" stroke="#231f20" stroke-width="0.18" text-anchor="middle" fill="#231f20">Day 42</text>
<circle cx="31.30" cy="430.20" r="1.6" fill="none" stroke="#d84858" stroke-width="0.8"/>
<line x1="31.30" y1="431.80" x2="31.30" y2="438.00" stroke="#d84858" stroke-width="0.8"/>
<path d="M30.00 437.20 L32.60 437.20 L31.30 439.20Z" fill="#d84858"/>
<circle cx="67.10" cy="430.20" r="1.6" fill="none" stroke="#d84858" stroke-width="0.8"/>
<line x1="67.10" y1="431.80" x2="67.10" y2="438.00" stroke="#d84858" stroke-width="0.8"/>
<path d="M65.80 437.20 L68.40 437.20 L67.10 439.20Z" fill="#d84858"/>
<circle cx="106.30" cy="430.20" r="1.6" fill="none" stroke="#d84858" stroke-width="0.8"/>
<line x1="106.30" y1="431.80" x2="106.30" y2="438.00" stroke="#d84858" stroke-width="0.8"/>
<path d="M105.00 437.20 L107.60 437.20 L106.30 439.20Z" fill="#d84858"/>
<circle cx="154.10" cy="430.20" r="1.6" fill="none" stroke="#d84858" stroke-width="0.8"/>
<line x1="154.10" y1="431.80" x2="154.10" y2="438.00" stroke="#d84858" stroke-width="0.8"/>
<path d="M152.80 437.20 L155.40 437.20 L154.10 439.20Z" fill="#d84858"/>
<circle cx="189.60" cy="430.20" r="1.6" fill="none" stroke="#d84858" stroke-width="0.8"/>
<line x1="189.60" y1="431.80" x2="189.60" y2="438.00" stroke="#d84858" stroke-width="0.8"/>
<path d="M188.30 437.20 L190.90 437.20 L189.60 439.20Z" fill="#d84858"/>
<circle cx="228.40" cy="430.20" r="1.6" fill="none" stroke="#d84858" stroke-width="0.8"/>
<line x1="228.40" y1="431.80" x2="228.40" y2="438.00" stroke="#d84858" stroke-width="0.8"/>
<path d="M227.10 437.20 L229.70 437.20 L228.40 439.20Z" fill="#d84858"/>
<line x1="319.50" y1="362.60" x2="319.50" y2="469.90" stroke="#231f20" stroke-width="1.0"/>
<line x1="319.00" y1="469.30" x2="478.60" y2="469.30" stroke="#231f20" stroke-width="1.2"/>
<line x1="315.50" y1="469.30" x2="319.50" y2="469.30" stroke="#231f20" stroke-width="1.0"/>
<line x1="316.80" y1="462.63" x2="319.50" y2="462.63" stroke="#231f20" stroke-width="1.0"/>
<line x1="316.80" y1="455.96" x2="319.50" y2="455.96" stroke="#231f20" stroke-width="1.0"/>
<line x1="316.80" y1="449.29" x2="319.50" y2="449.29" stroke="#231f20" stroke-width="1.0"/>
<line x1="315.50" y1="442.62" x2="319.50" y2="442.62" stroke="#231f20" stroke-width="1.0"/>
<line x1="316.80" y1="435.95" x2="319.50" y2="435.95" stroke="#231f20" stroke-width="1.0"/>
<line x1="316.80" y1="429.28" x2="319.50" y2="429.28" stroke="#231f20" stroke-width="1.0"/>
<line x1="316.80" y1="422.61" x2="319.50" y2="422.61" stroke="#231f20" stroke-width="1.0"/>
<line x1="315.50" y1="415.94" x2="319.50" y2="415.94" stroke="#231f20" stroke-width="1.0"/>
<line x1="316.80" y1="409.27" x2="319.50" y2="409.27" stroke="#231f20" stroke-width="1.0"/>
<line x1="316.80" y1="402.60" x2="319.50" y2="402.60" stroke="#231f20" stroke-width="1.0"/>
<line x1="316.80" y1="395.93" x2="319.50" y2="395.93" stroke="#231f20" stroke-width="1.0"/>
<line x1="315.50" y1="389.26" x2="319.50" y2="389.26" stroke="#231f20" stroke-width="1.0"/>
<line x1="316.80" y1="382.59" x2="319.50" y2="382.59" stroke="#231f20" stroke-width="1.0"/>
<line x1="316.80" y1="375.92" x2="319.50" y2="375.92" stroke="#231f20" stroke-width="1.0"/>
<line x1="316.80" y1="369.25" x2="319.50" y2="369.25" stroke="#231f20" stroke-width="1.0"/>
<line x1="315.50" y1="362.58" x2="319.50" y2="362.58" stroke="#231f20" stroke-width="1.0"/>
<text x="315.20" y="472.70" font-size="9.4" stroke="#231f20" stroke-width="0.18" text-anchor="end" fill="#231f20">12</text>
<text x="315.20" y="446.02" font-size="9.4" stroke="#231f20" stroke-width="0.18" text-anchor="end" fill="#231f20">16</text>
<text x="315.20" y="419.34" font-size="9.4" stroke="#231f20" stroke-width="0.18" text-anchor="end" fill="#231f20">20</text>
<text x="315.20" y="392.66" font-size="9.4" stroke="#231f20" stroke-width="0.18" text-anchor="end" fill="#231f20">24</text>
<text x="315.20" y="365.98" font-size="9.4" stroke="#231f20" stroke-width="0.18" text-anchor="end" fill="#231f20">28</text>
<line x1="323.72" y1="469.30" x2="323.72" y2="471.60" stroke="#231f20" stroke-width="1.0"/>
<line x1="328.40" y1="469.30" x2="328.40" y2="474.00" stroke="#231f20" stroke-width="1.0"/>
<line x1="333.08" y1="469.30" x2="333.08" y2="471.60" stroke="#231f20" stroke-width="1.0"/>
<line x1="337.76" y1="469.30" x2="337.76" y2="471.60" stroke="#231f20" stroke-width="1.0"/>
<line x1="342.44" y1="469.30" x2="342.44" y2="471.60" stroke="#231f20" stroke-width="1.0"/>
<line x1="347.12" y1="469.30" x2="347.12" y2="474.00" stroke="#231f20" stroke-width="1.0"/>
<line x1="351.80" y1="469.30" x2="351.80" y2="471.60" stroke="#231f20" stroke-width="1.0"/>
<line x1="356.48" y1="469.30" x2="356.48" y2="471.60" stroke="#231f20" stroke-width="1.0"/>
<line x1="361.16" y1="469.30" x2="361.16" y2="471.60" stroke="#231f20" stroke-width="1.0"/>
<line x1="365.84" y1="469.30" x2="365.84" y2="474.00" stroke="#231f20" stroke-width="1.0"/>
<line x1="370.52" y1="469.30" x2="370.52" y2="471.60" stroke="#231f20" stroke-width="1.0"/>
<line x1="375.20" y1="469.30" x2="375.20" y2="471.60" stroke="#231f20" stroke-width="1.0"/>
<line x1="379.88" y1="469.30" x2="379.88" y2="471.60" stroke="#231f20" stroke-width="1.0"/>
<line x1="384.56" y1="469.30" x2="384.56" y2="474.00" stroke="#231f20" stroke-width="1.0"/>
<line x1="389.24" y1="469.30" x2="389.24" y2="471.60" stroke="#231f20" stroke-width="1.0"/>
<line x1="393.92" y1="469.30" x2="393.92" y2="471.60" stroke="#231f20" stroke-width="1.0"/>
<line x1="398.60" y1="469.30" x2="398.60" y2="471.60" stroke="#231f20" stroke-width="1.0"/>
<line x1="403.28" y1="469.30" x2="403.28" y2="474.00" stroke="#231f20" stroke-width="1.0"/>
<line x1="407.96" y1="469.30" x2="407.96" y2="471.60" stroke="#231f20" stroke-width="1.0"/>
<line x1="412.64" y1="469.30" x2="412.64" y2="471.60" stroke="#231f20" stroke-width="1.0"/>
<line x1="417.32" y1="469.30" x2="417.32" y2="471.60" stroke="#231f20" stroke-width="1.0"/>
<line x1="422.00" y1="469.30" x2="422.00" y2="474.00" stroke="#231f20" stroke-width="1.0"/>
<line x1="426.68" y1="469.30" x2="426.68" y2="471.60" stroke="#231f20" stroke-width="1.0"/>
<line x1="431.36" y1="469.30" x2="431.36" y2="471.60" stroke="#231f20" stroke-width="1.0"/>
<line x1="436.04" y1="469.30" x2="436.04" y2="471.60" stroke="#231f20" stroke-width="1.0"/>
<line x1="440.72" y1="469.30" x2="440.72" y2="474.00" stroke="#231f20" stroke-width="1.0"/>
<line x1="445.40" y1="469.30" x2="445.40" y2="471.60" stroke="#231f20" stroke-width="1.0"/>
<line x1="450.08" y1="469.30" x2="450.08" y2="471.60" stroke="#231f20" stroke-width="1.0"/>
<line x1="454.76" y1="469.30" x2="454.76" y2="471.60" stroke="#231f20" stroke-width="1.0"/>
<line x1="459.44" y1="469.30" x2="459.44" y2="474.00" stroke="#231f20" stroke-width="1.0"/>
<line x1="464.12" y1="469.30" x2="464.12" y2="471.60" stroke="#231f20" stroke-width="1.0"/>
<line x1="468.80" y1="469.30" x2="468.80" y2="471.60" stroke="#231f20" stroke-width="1.0"/>
<line x1="473.48" y1="469.30" x2="473.48" y2="471.60" stroke="#231f20" stroke-width="1.0"/>
<line x1="478.16" y1="469.30" x2="478.16" y2="474.00" stroke="#231f20" stroke-width="1.0"/>
<text x="327.80" y="482.50" font-size="9.4" stroke="#231f20" stroke-width="0.18" text-anchor="middle" fill="#231f20">8</text>
<text x="346.52" y="482.50" font-size="9.4" stroke="#231f20" stroke-width="0.18" text-anchor="middle" fill="#231f20">16</text>
<text x="365.24" y="482.50" font-size="9.4" stroke="#231f20" stroke-width="0.18" text-anchor="middle" fill="#231f20">24</text>
<text x="383.96" y="482.50" font-size="9.4" stroke="#231f20" stroke-width="0.18" text-anchor="middle" fill="#231f20">32</text>
<text x="402.68" y="482.50" font-size="9.4" stroke="#231f20" stroke-width="0.18" text-anchor="middle" fill="#231f20">40</text>
<text x="421.40" y="482.50" font-size="9.4" stroke="#231f20" stroke-width="0.18" text-anchor="middle" fill="#231f20">48</text>
<text x="440.12" y="482.50" font-size="9.4" stroke="#231f20" stroke-width="0.18" text-anchor="middle" fill="#231f20">56</text>
<text x="458.84" y="482.50" font-size="9.4" stroke="#231f20" stroke-width="0.18" text-anchor="middle" fill="#231f20">64</text>
<text x="477.56" y="482.50" font-size="9.4" stroke="#231f20" stroke-width="0.18" text-anchor="middle" fill="#231f20">72</text>
<text x="403.40" y="496.30" font-size="9.45" font-weight="bold" stroke="#231f20" stroke-width="0.12" text-anchor="middle" fill="#231f20">Days after 3C-LNP injection</text>
<text x="300.80" y="412.60" font-size="9.4" font-weight="bold" stroke="#231f20" stroke-width="0.12" text-anchor="middle" fill="#231f20" transform="rotate(-90 300.8 412.6)">Body weight (g)</text>
<polyline points="328.40,422.68 335.42,417.47 344.78,412.81 351.80,413.41 361.16,409.27 368.18,408.07 377.54,404.60 384.56,402.93 393.92,399.93 410.30,397.00 417.32,395.26 426.68,395.26 433.70,396.60 443.06,395.93 450.08,387.59 459.44,387.59" fill="none" stroke="#f58220" stroke-width="0.9"/>
<path d="M328.40 418.18V427.18M326.80 418.18H330.00M326.80 427.18H330.00" stroke="#f58220" stroke-width="0.9" fill="none"/>
<path d="M328.40 420.26L330.71 424.36L326.09 424.36Z" fill="#f58220"/>
<path d="M335.42 411.47V423.47M333.82 411.47H337.02M333.82 423.47H337.02" stroke="#f58220" stroke-width="0.9" fill="none"/>
<path d="M335.42 415.06L337.73 419.15L333.11 419.15Z" fill="#f58220"/>
<path d="M344.78 407.31V418.31M343.18 407.31H346.38M343.18 418.31H346.38" stroke="#f58220" stroke-width="0.9" fill="none"/>
<path d="M344.78 410.39L347.09 414.49L342.47 414.49Z" fill="#f58220"/>
<path d="M351.80 403.41V423.41M350.20 403.41H353.40M350.20 423.41H353.40" stroke="#f58220" stroke-width="0.9" fill="none"/>
<path d="M351.80 410.99L354.11 415.09L349.49 415.09Z" fill="#f58220"/>
<path d="M361.16 402.27V416.27M359.56 402.27H362.76M359.56 416.27H362.76" stroke="#f58220" stroke-width="0.9" fill="none"/>
<path d="M361.16 406.85L363.47 410.95L358.85 410.95Z" fill="#f58220"/>
<path d="M368.18 402.07V414.07M366.58 402.07H369.78M366.58 414.07H369.78" stroke="#f58220" stroke-width="0.9" fill="none"/>
<path d="M368.18 405.65L370.49 409.75L365.87 409.75Z" fill="#f58220"/>
<path d="M377.54 397.60V411.60M375.94 397.60H379.14M375.94 411.60H379.14" stroke="#f58220" stroke-width="0.9" fill="none"/>
<path d="M377.54 402.19L379.85 406.28L375.23 406.28Z" fill="#f58220"/>
<path d="M384.56 396.93V408.93M382.96 396.93H386.16M382.96 408.93H386.16" stroke="#f58220" stroke-width="0.9" fill="none"/>
<path d="M384.56 400.52L386.87 404.61L382.25 404.61Z" fill="#f58220"/>
<path d="M393.92 394.93V404.93M392.32 394.93H395.52M392.32 404.93H395.52" stroke="#f58220" stroke-width="0.9" fill="none"/>
<path d="M393.92 397.52L396.23 401.61L391.61 401.61Z" fill="#f58220"/>
<path d="M410.30 391.00V403.00M408.70 391.00H411.90M408.70 403.00H411.90" stroke="#f58220" stroke-width="0.9" fill="none"/>
<path d="M410.30 394.58L412.61 398.68L407.99 398.68Z" fill="#f58220"/>
<path d="M417.32 385.26V405.26M415.72 385.26H418.92M415.72 405.26H418.92" stroke="#f58220" stroke-width="0.9" fill="none"/>
<path d="M417.32 392.85L419.63 396.94L415.01 396.94Z" fill="#f58220"/>
<path d="M426.68 388.26V402.26M425.08 388.26H428.28M425.08 402.26H428.28" stroke="#f58220" stroke-width="0.9" fill="none"/>
<path d="M426.68 392.85L428.99 396.94L424.37 396.94Z" fill="#f58220"/>
<path d="M433.70 388.60V404.60M432.10 388.60H435.30M432.10 404.60H435.30" stroke="#f58220" stroke-width="0.9" fill="none"/>
<path d="M433.70 394.18L436.01 398.28L431.39 398.28Z" fill="#f58220"/>
<path d="M443.06 386.93V404.93M441.46 386.93H444.66M441.46 404.93H444.66" stroke="#f58220" stroke-width="0.9" fill="none"/>
<path d="M443.06 393.51L445.37 397.61L440.75 397.61Z" fill="#f58220"/>
<path d="M450.08 379.59V395.59M448.48 379.59H451.68M448.48 395.59H451.68" stroke="#f58220" stroke-width="0.9" fill="none"/>
<path d="M450.08 385.18L452.39 389.27L447.77 389.27Z" fill="#f58220"/>
<path d="M459.44 378.59V396.59M457.84 378.59H461.04M457.84 396.59H461.04" stroke="#f58220" stroke-width="0.9" fill="none"/>
<path d="M459.44 385.18L461.75 389.27L457.13 389.27Z" fill="#f58220"/>
<polyline points="328.40,414.61 335.42,422.21 344.78,413.67 351.80,410.67 361.16,409.94 368.18,412.61 377.54,406.40 384.56,404.60 393.92,401.73 410.30,403.27 417.32,392.26 426.68,391.39 433.70,389.39 443.06,389.73 450.08,385.93 459.44,382.59" fill="none" stroke="#f2121c" stroke-width="0.9"/>
<path d="M328.40 410.11V419.11M326.80 410.11H330.00M326.80 419.11H330.00" stroke="#f2121c" stroke-width="0.9" fill="none"/>
<rect x="326.40" y="412.61" width="4.0" height="4.0" fill="#f2121c"/>
<path d="M335.42 418.21V426.21M333.82 418.21H337.02M333.82 426.21H337.02" stroke="#f2121c" stroke-width="0.9" fill="none"/>
<rect x="333.42" y="420.21" width="4.0" height="4.0" fill="#f2121c"/>
<path d="M344.78 409.67V417.67M343.18 409.67H346.38M343.18 417.67H346.38" stroke="#f2121c" stroke-width="0.9" fill="none"/>
<rect x="342.78" y="411.67" width="4.0" height="4.0" fill="#f2121c"/>
<path d="M351.80 406.67V414.67M350.20 406.67H353.40M350.20 414.67H353.40" stroke="#f2121c" stroke-width="0.9" fill="none"/>
<rect x="349.80" y="408.67" width="4.0" height="4.0" fill="#f2121c"/>
<path d="M361.16 405.44V414.44M359.56 405.44H362.76M359.56 414.44H362.76" stroke="#f2121c" stroke-width="0.9" fill="none"/>
<rect x="359.16" y="407.94" width="4.0" height="4.0" fill="#f2121c"/>
<path d="M368.18 408.11V417.11M366.58 408.11H369.78M366.58 417.11H369.78" stroke="#f2121c" stroke-width="0.9" fill="none"/>
<rect x="366.18" y="410.61" width="4.0" height="4.0" fill="#f2121c"/>
<path d="M377.54 401.40V411.40M375.94 401.40H379.14M375.94 411.40H379.14" stroke="#f2121c" stroke-width="0.9" fill="none"/>
<rect x="375.54" y="404.40" width="4.0" height="4.0" fill="#f2121c"/>
<path d="M384.56 399.60V409.60M382.96 399.60H386.16M382.96 409.60H386.16" stroke="#f2121c" stroke-width="0.9" fill="none"/>
<rect x="382.56" y="402.60" width="4.0" height="4.0" fill="#f2121c"/>
<path d="M393.92 397.23V406.23M392.32 397.23H395.52M392.32 406.23H395.52" stroke="#f2121c" stroke-width="0.9" fill="none"/>
<rect x="391.92" y="399.73" width="4.0" height="4.0" fill="#f2121c"/>
<path d="M410.30 398.77V407.77M408.70 398.77H411.90M408.70 407.77H411.90" stroke="#f2121c" stroke-width="0.9" fill="none"/>
<rect x="408.30" y="401.27" width="4.0" height="4.0" fill="#f2121c"/>
<path d="M417.32 385.26V399.26M415.72 385.26H418.92M415.72 399.26H418.92" stroke="#f2121c" stroke-width="0.9" fill="none"/>
<rect x="415.32" y="390.26" width="4.0" height="4.0" fill="#f2121c"/>
<path d="M426.68 385.39V397.39M425.08 385.39H428.28M425.08 397.39H428.28" stroke="#f2121c" stroke-width="0.9" fill="none"/>
<rect x="424.68" y="389.39" width="4.0" height="4.0" fill="#f2121c"/>
<path d="M433.70 382.39V396.39M432.10 382.39H435.30M432.10 396.39H435.30" stroke="#f2121c" stroke-width="0.9" fill="none"/>
<rect x="431.70" y="387.39" width="4.0" height="4.0" fill="#f2121c"/>
<path d="M443.06 381.73V397.73M441.46 381.73H444.66M441.46 397.73H444.66" stroke="#f2121c" stroke-width="0.9" fill="none"/>
<rect x="441.06" y="387.73" width="4.0" height="4.0" fill="#f2121c"/>
<path d="M450.08 376.93V394.93M448.48 376.93H451.68M448.48 394.93H451.68" stroke="#f2121c" stroke-width="0.9" fill="none"/>
<rect x="448.08" y="383.93" width="4.0" height="4.0" fill="#f2121c"/>
<path d="M459.44 374.59V390.59M457.84 374.59H461.04M457.84 390.59H461.04" stroke="#f2121c" stroke-width="0.9" fill="none"/>
<rect x="457.44" y="380.59" width="4.0" height="4.0" fill="#f2121c"/>
<polyline points="328.40,412.81 335.42,410.20 344.78,409.00 351.80,405.80 361.16,402.87 368.18,402.07 377.54,398.60 384.56,396.20 393.92,391.79 410.30,391.73 417.32,387.59 426.68,390.59 433.70,385.93 443.06,389.39 450.08,383.26 459.44,379.92" fill="none" stroke="#1c7f96" stroke-width="0.9"/>
<path d="M328.40 406.31V419.31M326.60 406.31H330.20M326.60 419.31H330.20" stroke="#1c7f96" stroke-width="0.9" fill="none"/>
<circle cx="328.40" cy="412.81" r="2.0" fill="#1c7f96"/>
<path d="M335.42 403.70V416.70M333.62 403.70H337.22M333.62 416.70H337.22" stroke="#1c7f96" stroke-width="0.9" fill="none"/>
<circle cx="335.42" cy="410.20" r="2.0" fill="#1c7f96"/>
<path d="M344.78 402.50V415.50M342.98 402.50H346.58M342.98 415.50H346.58" stroke="#1c7f96" stroke-width="0.9" fill="none"/>
<circle cx="344.78" cy="409.00" r="2.0" fill="#1c7f96"/>
<path d="M351.80 398.80V412.80M350.00 398.80H353.60M350.00 412.80H353.60" stroke="#1c7f96" stroke-width="0.9" fill="none"/>
<circle cx="351.80" cy="405.80" r="2.0" fill="#1c7f96"/>
<path d="M361.16 395.87V409.87M359.36 395.87H362.96M359.36 409.87H362.96" stroke="#1c7f96" stroke-width="0.9" fill="none"/>
<circle cx="361.16" cy="402.87" r="2.0" fill="#1c7f96"/>
<path d="M368.18 395.07V409.07M366.38 395.07H369.98M366.38 409.07H369.98" stroke="#1c7f96" stroke-width="0.9" fill="none"/>
<circle cx="368.18" cy="402.07" r="2.0" fill="#1c7f96"/>
<path d="M377.54 391.10V406.10M375.74 391.10H379.34M375.74 406.10H379.34" stroke="#1c7f96" stroke-width="0.9" fill="none"/>
<circle cx="377.54" cy="398.60" r="2.0" fill="#1c7f96"/>
<path d="M384.56 388.20V404.20M382.76 388.20H386.36M382.76 404.20H386.36" stroke="#1c7f96" stroke-width="0.9" fill="none"/>
<circle cx="384.56" cy="396.20" r="2.0" fill="#1c7f96"/>
<path d="M393.92 383.29V400.29M392.12 383.29H395.72M392.12 400.29H395.72" stroke="#1c7f96" stroke-width="0.9" fill="none"/>
<circle cx="393.92" cy="391.79" r="2.0" fill="#1c7f96"/>
<path d="M410.30 383.23V400.23M408.50 383.23H412.10M408.50 400.23H412.10" stroke="#1c7f96" stroke-width="0.9" fill="none"/>
<circle cx="410.30" cy="391.73" r="2.0" fill="#1c7f96"/>
<path d="M417.32 378.09V397.09M415.52 378.09H419.12M415.52 397.09H419.12" stroke="#1c7f96" stroke-width="0.9" fill="none"/>
<circle cx="417.32" cy="387.59" r="2.0" fill="#1c7f96"/>
<path d="M426.68 383.09V398.09M424.88 383.09H428.48M424.88 398.09H428.48" stroke="#1c7f96" stroke-width="0.9" fill="none"/>
<circle cx="426.68" cy="390.59" r="2.0" fill="#1c7f96"/>
<path d="M433.70 376.93V394.93M431.90 376.93H435.50M431.90 394.93H435.50" stroke="#1c7f96" stroke-width="0.9" fill="none"/>
<circle cx="433.70" cy="385.93" r="2.0" fill="#1c7f96"/>
<path d="M443.06 380.39V398.39M441.26 380.39H444.86M441.26 398.39H444.86" stroke="#1c7f96" stroke-width="0.9" fill="none"/>
<circle cx="443.06" cy="389.39" r="2.0" fill="#1c7f96"/>
<path d="M450.08 375.26V391.26M448.28 375.26H451.88M448.28 391.26H451.88" stroke="#1c7f96" stroke-width="0.9" fill="none"/>
<circle cx="450.08" cy="383.26" r="2.0" fill="#1c7f96"/>
<path d="M459.44 372.42V387.42M457.64 372.42H461.24M457.64 387.42H461.24" stroke="#1c7f96" stroke-width="0.9" fill="none"/>
<circle cx="459.44" cy="379.92" r="2.0" fill="#1c7f96"/>
<line x1="328.50" y1="343.90" x2="340.00" y2="343.90" stroke="#1c7f96" stroke-width="0.9"/>
<circle cx="334.3" cy="343.9" r="2.0" fill="#1c7f96"/>
<text x="343.60" y="346.70" font-size="7.7" stroke="#231f20" stroke-width="0.18" text-anchor="start" fill="#231f20">PBS</text>
<line x1="328.50" y1="352.90" x2="340.00" y2="352.90" stroke="#f2121c" stroke-width="0.9"/>
<rect x="332.3" y="350.9" width="4" height="4" fill="#f2121c"/>
<text x="343.60" y="355.70" font-size="7.7" stroke="#231f20" stroke-width="0.18" text-anchor="start" fill="#231f20">3C-LNP(0.43 mg/kg)</text>
<line x1="328.50" y1="362.70" x2="340.00" y2="362.70" stroke="#f58220" stroke-width="0.9"/>
<path d="M334.3 360.4L336.6 364.3L332 364.3Z" fill="#f58220"/>
<text x="343.60" y="365.50" font-size="7.7" stroke="#231f20" stroke-width="0.18" text-anchor="start" fill="#231f20">3C-LNP(0.65 mg/kg)</text>
<line x1="526.50" y1="373.80" x2="526.50" y2="476.60" stroke="#231f20" stroke-width="1.0"/>
<line x1="526.00" y1="476.30" x2="671.60" y2="476.30" stroke="#231f20" stroke-width="1.2"/>
<line x1="522.20" y1="476.30" x2="526.50" y2="476.30" stroke="#231f20" stroke-width="1.0"/>
<text x="521.00" y="479.60" font-size="9.2" stroke="#231f20" stroke-width="0.18" text-anchor="end" fill="#231f20">0</text>
<line x1="522.20" y1="425.20" x2="526.50" y2="425.20" stroke="#231f20" stroke-width="1.0"/>
<text x="521.00" y="428.50" font-size="9.2" stroke="#231f20" stroke-width="0.18" text-anchor="end" fill="#231f20">50</text>
<line x1="522.20" y1="374.10" x2="526.50" y2="374.10" stroke="#231f20" stroke-width="1.0"/>
<text x="521.00" y="377.40" font-size="9.2" stroke="#231f20" stroke-width="0.18" text-anchor="end" fill="#231f20">100</text>
<line x1="526.50" y1="476.30" x2="526.50" y2="480.40" stroke="#231f20" stroke-width="1.0"/>
<text x="526.50" y="488.90" font-size="9.2" stroke="#231f20" stroke-width="0.18" text-anchor="middle" fill="#231f20">0</text>
<line x1="547.20" y1="476.30" x2="547.20" y2="480.40" stroke="#231f20" stroke-width="1.0"/>
<text x="547.20" y="488.90" font-size="9.2" stroke="#231f20" stroke-width="0.18" text-anchor="middle" fill="#231f20">10</text>
<line x1="567.90" y1="476.30" x2="567.90" y2="480.40" stroke="#231f20" stroke-width="1.0"/>
<text x="567.90" y="488.90" font-size="9.2" stroke="#231f20" stroke-width="0.18" text-anchor="middle" fill="#231f20">20</text>
<line x1="588.60" y1="476.30" x2="588.60" y2="480.40" stroke="#231f20" stroke-width="1.0"/>
<text x="588.60" y="488.90" font-size="9.2" stroke="#231f20" stroke-width="0.18" text-anchor="middle" fill="#231f20">30</text>
<line x1="609.30" y1="476.30" x2="609.30" y2="480.40" stroke="#231f20" stroke-width="1.0"/>
<text x="609.30" y="488.90" font-size="9.2" stroke="#231f20" stroke-width="0.18" text-anchor="middle" fill="#231f20">40</text>
<line x1="630.00" y1="476.30" x2="630.00" y2="480.40" stroke="#231f20" stroke-width="1.0"/>
<text x="630.00" y="488.90" font-size="9.2" stroke="#231f20" stroke-width="0.18" text-anchor="middle" fill="#231f20">50</text>
<line x1="650.70" y1="476.30" x2="650.70" y2="480.40" stroke="#231f20" stroke-width="1.0"/>
<text x="650.70" y="488.90" font-size="9.2" stroke="#231f20" stroke-width="0.18" text-anchor="middle" fill="#231f20">60</text>
<line x1="671.40" y1="476.30" x2="671.40" y2="480.40" stroke="#231f20" stroke-width="1.0"/>
<text x="671.40" y="488.90" font-size="9.2" stroke="#231f20" stroke-width="0.18" text-anchor="middle" fill="#231f20">70</text>
<text x="601.70" y="503.00" font-size="9.45" font-weight="bold" stroke="#231f20" stroke-width="0.12" text-anchor="middle" fill="#231f20">Days after 3C-LNP injection</text>
<text x="505.00" y="426.80" font-size="9.4" font-weight="bold" stroke="#231f20" stroke-width="0.12" text-anchor="middle" fill="#231f20" transform="rotate(-90 505.0 426.8)">Percent survival</text>
<line x1="532.5" y1="374.10" x2="658.7" y2="374.10" stroke="#1c7f96" stroke-width="1.6"/>
<line x1="532.5" y1="374.10" x2="658.7" y2="374.10" stroke="#f58220" stroke-width="1.6" stroke-dasharray="2 9.5" stroke-dashoffset="-1"/>
<line x1="532.5" y1="374.10" x2="658.7" y2="374.10" stroke="#f2121c" stroke-width="1.6" stroke-dasharray="2 9.5" stroke-dashoffset="-6.5"/>
<rect x="657.2" y="372.10" width="4" height="4" fill="#1c7f96"/>
<line x1="537.00" y1="343.60" x2="548.40" y2="343.60" stroke="#1c7f96" stroke-width="2.4"/>
<ellipse cx="543.5" cy="343.6" rx="2.4" ry="2.0" fill="#1c7f96"/>
<line x1="537.0" y1="353.1" x2="548.4" y2="353.1" stroke="#f58220" stroke-width="1.8" stroke-dasharray="2 1.2"/>
<line x1="537.00" y1="362.90" x2="548.40" y2="362.90" stroke="#f2121c" stroke-width="2.4"/>
<ellipse cx="543.0" cy="362.9" rx="2.4" ry="2.0" fill="#f2121c"/>
<text x="554.90" y="345.70" font-size="8.0" stroke="#231f20" stroke-width="0.18" text-anchor="start" fill="#231f20">PBS</text>
<text x="554.90" y="355.70" font-size="8.0" stroke="#231f20" stroke-width="0.18" text-anchor="start" fill="#231f20">3C-LNP(0.65 mg/kg)</text>
<text x="554.90" y="365.60" font-size="8.0" stroke="#231f20" stroke-width="0.18" text-anchor="start" fill="#231f20">3C-LNP(0.43 mg/kg)</text>
<line x1="32.30" y1="563.90" x2="32.30" y2="669.00" stroke="#333" stroke-width="0.9"/>
<line x1="31.90" y1="668.60" x2="133.90" y2="668.60" stroke="#333" stroke-width="0.9"/>
<line x1="28.30" y1="668.60" x2="32.30" y2="668.60" stroke="#333" stroke-width="1.0"/>
<text x="27.50" y="671.80" font-size="8.85" stroke="#231f20" stroke-width="0.18" text-anchor="end" fill="#231f20">0</text>
<line x1="28.30" y1="647.72" x2="32.30" y2="647.72" stroke="#333" stroke-width="1.0"/>
<text x="27.50" y="650.92" font-size="8.85" stroke="#231f20" stroke-width="0.18" text-anchor="end" fill="#231f20">40</text>
<line x1="28.30" y1="626.84" x2="32.30" y2="626.84" stroke="#333" stroke-width="1.0"/>
<text x="27.50" y="630.04" font-size="8.85" stroke="#231f20" stroke-width="0.18" text-anchor="end" fill="#231f20">80</text>
<line x1="28.30" y1="605.96" x2="32.30" y2="605.96" stroke="#333" stroke-width="1.0"/>
<text x="27.50" y="609.16" font-size="8.85" stroke="#231f20" stroke-width="0.18" text-anchor="end" fill="#231f20">120</text>
<line x1="28.30" y1="585.08" x2="32.30" y2="585.08" stroke="#333" stroke-width="1.0"/>
<text x="27.50" y="588.28" font-size="8.85" stroke="#231f20" stroke-width="0.18" text-anchor="end" fill="#231f20">160</text>
<line x1="28.30" y1="564.20" x2="32.30" y2="564.20" stroke="#333" stroke-width="1.0"/>
<text x="27.50" y="567.40" font-size="8.85" stroke="#231f20" stroke-width="0.18" text-anchor="end" fill="#231f20">200</text>
<line x1="82.80" y1="668.60" x2="82.80" y2="672.80" stroke="#333" stroke-width="0.9"/>
<text x="82.80" y="683.30" font-size="8.2" font-weight="bold" stroke="#231f20" stroke-width="0.12" text-anchor="middle" fill="#231f20">AST</text>
<path d="M42.50 668.60V620.78H61.70V668.60" fill="none" stroke="#3596b0" stroke-width="1.3"/>
<path d="M52.10 611.18V629.97M47.40 611.18H56.80M47.40 629.97H56.80" stroke="#3596b0" stroke-width="1.1" fill="none"/>
<circle cx="52.10" cy="601.78" r="1.75" fill="#fff" stroke="#3596b0" stroke-width="0.9"/>
<circle cx="52.10" cy="626.32" r="1.75" fill="#fff" stroke="#3596b0" stroke-width="0.9"/>
<circle cx="52.10" cy="633.10" r="1.75" fill="#fff" stroke="#3596b0" stroke-width="0.9"/>
<path d="M73.00 668.60V617.29H92.40V668.60" fill="none" stroke="#f0222e" stroke-width="1.3"/>
<path d="M82.70 615.88V618.49M78.00 615.88H87.40M78.00 618.49H87.40" stroke="#f0222e" stroke-width="1.1" fill="none"/>
<circle cx="79.70" cy="615.36" r="1.75" fill="#fff" stroke="#f0222e" stroke-width="0.9"/>
<circle cx="82.70" cy="618.49" r="1.75" fill="#fff" stroke="#f0222e" stroke-width="0.9"/>
<circle cx="85.70" cy="615.88" r="1.75" fill="#fff" stroke="#f0222e" stroke-width="0.9"/>
<path d="M103.20 668.60V614.31H122.60V668.60" fill="none" stroke="#f5823a" stroke-width="1.3"/>
<path d="M112.90 603.35V623.71M108.20 603.35H117.60M108.20 623.71H117.60" stroke="#f5823a" stroke-width="1.1" fill="none"/>
<circle cx="112.90" cy="592.39" r="1.75" fill="#fff" stroke="#f5823a" stroke-width="0.9"/>
<circle cx="106.60" cy="623.71" r="1.75" fill="#fff" stroke="#f5823a" stroke-width="0.9"/>
<circle cx="119.20" cy="623.71" r="1.75" fill="#fff" stroke="#f5823a" stroke-width="0.9"/>
<circle cx="44.00" cy="537.9" r="1.7" fill="none" stroke="#3596b0" stroke-width="0.9"/>
<text x="50.60" y="540.60" font-size="7.7" stroke="#231f20" stroke-width="0.18" text-anchor="start" fill="#231f20">PBS</text>
<circle cx="44.00" cy="546.9" r="1.7" fill="none" stroke="#f0222e" stroke-width="0.9"/>
<text x="50.60" y="549.60" font-size="7.7" stroke="#231f20" stroke-width="0.18" text-anchor="start" fill="#231f20">3C-LNP(0.43 mg/kg)</text>
<circle cx="44.00" cy="556.0" r="1.7" fill="none" stroke="#f5823a" stroke-width="0.9"/>
<text x="50.60" y="558.70" font-size="7.7" stroke="#231f20" stroke-width="0.18" text-anchor="start" fill="#231f20">3C-LNP(0.65 mg/kg)</text>
<path d="M52.30 583.10V587.10M52.30 585.10H113.00M113.00 583.10V587.10" stroke="#444" stroke-width="1" fill="none"/>
<text x="81.45" y="581.10" font-size="8.0" stroke="#231f20" stroke-width="0.18" text-anchor="middle" fill="#231f20">n.s.</text>
<path d="M52.30 594.00V598.00M52.30 596.00H82.60M82.60 594.00V598.00" stroke="#444" stroke-width="1" fill="none"/>
<text x="66.25" y="592.00" font-size="8.0" stroke="#231f20" stroke-width="0.18" text-anchor="middle" fill="#231f20">n.s.</text>
<line x1="157.20" y1="566.40" x2="157.20" y2="669.80" stroke="#333" stroke-width="0.9"/>
<line x1="156.80" y1="669.40" x2="257.20" y2="669.40" stroke="#333" stroke-width="0.9"/>
<line x1="153.20" y1="669.40" x2="157.20" y2="669.40" stroke="#333" stroke-width="1.0"/>
<text x="152.40" y="672.60" font-size="8.85" stroke="#231f20" stroke-width="0.18" text-anchor="end" fill="#231f20">10</text>
<line x1="153.20" y1="648.86" x2="157.20" y2="648.86" stroke="#333" stroke-width="1.0"/>
<text x="152.40" y="652.06" font-size="8.85" stroke="#231f20" stroke-width="0.18" text-anchor="end" fill="#231f20">20</text>
<line x1="153.20" y1="628.32" x2="157.20" y2="628.32" stroke="#333" stroke-width="1.0"/>
<text x="152.40" y="631.52" font-size="8.85" stroke="#231f20" stroke-width="0.18" text-anchor="end" fill="#231f20">30</text>
<line x1="153.20" y1="607.78" x2="157.20" y2="607.78" stroke="#333" stroke-width="1.0"/>
<text x="152.40" y="610.98" font-size="8.85" stroke="#231f20" stroke-width="0.18" text-anchor="end" fill="#231f20">40</text>
<line x1="153.20" y1="587.24" x2="157.20" y2="587.24" stroke="#333" stroke-width="1.0"/>
<text x="152.40" y="590.44" font-size="8.85" stroke="#231f20" stroke-width="0.18" text-anchor="end" fill="#231f20">50</text>
<line x1="153.20" y1="566.70" x2="157.20" y2="566.70" stroke="#333" stroke-width="1.0"/>
<text x="152.40" y="569.90" font-size="8.85" stroke="#231f20" stroke-width="0.18" text-anchor="end" fill="#231f20">60</text>
<line x1="207.60" y1="669.40" x2="207.60" y2="673.60" stroke="#333" stroke-width="0.9"/>
<text x="207.60" y="683.30" font-size="8.2" font-weight="bold" stroke="#231f20" stroke-width="0.12" text-anchor="middle" fill="#231f20">ALT</text>
<path d="M169.10 669.40V628.94H187.50V669.40" fill="none" stroke="#3596b0" stroke-width="1.3"/>
<path d="M178.30 626.27V630.37M173.60 626.27H183.00M173.60 630.37H183.00" stroke="#3596b0" stroke-width="1.1" fill="none"/>
<circle cx="172.80" cy="626.27" r="1.75" fill="#fff" stroke="#3596b0" stroke-width="0.9"/>
<circle cx="184.60" cy="626.27" r="1.75" fill="#fff" stroke="#3596b0" stroke-width="0.9"/>
<circle cx="178.30" cy="632.43" r="1.75" fill="#fff" stroke="#3596b0" stroke-width="0.9"/>
<path d="M198.50 669.40V615.17H217.40V669.40" fill="none" stroke="#f0222e" stroke-width="1.3"/>
<path d="M207.95 607.78V622.16M203.25 607.78H212.65M203.25 622.16H212.65" stroke="#f0222e" stroke-width="1.1" fill="none"/>
<circle cx="207.95" cy="603.67" r="1.75" fill="#fff" stroke="#f0222e" stroke-width="0.9"/>
<circle cx="207.95" cy="611.89" r="1.75" fill="#fff" stroke="#f0222e" stroke-width="0.9"/>
<circle cx="207.95" cy="628.32" r="1.75" fill="#fff" stroke="#f0222e" stroke-width="0.9"/>
<path d="M228.20 669.40V627.09H247.10V669.40" fill="none" stroke="#f5823a" stroke-width="1.3"/>
<path d="M237.65 625.44V628.32M232.95 625.44H242.35M232.95 628.32H242.35" stroke="#f5823a" stroke-width="1.1" fill="none"/>
<circle cx="231.35" cy="628.32" r="1.75" fill="#fff" stroke="#f5823a" stroke-width="0.9"/>
<circle cx="237.65" cy="624.83" r="1.75" fill="#fff" stroke="#f5823a" stroke-width="0.9"/>
<circle cx="243.95" cy="626.06" r="1.75" fill="#fff" stroke="#f5823a" stroke-width="0.9"/>
<circle cx="167.80" cy="537.9" r="1.7" fill="none" stroke="#3596b0" stroke-width="0.9"/>
<text x="174.40" y="540.60" font-size="7.7" stroke="#231f20" stroke-width="0.18" text-anchor="start" fill="#231f20">PBS</text>
<circle cx="167.80" cy="546.9" r="1.7" fill="none" stroke="#f0222e" stroke-width="0.9"/>
<text x="174.40" y="549.60" font-size="7.7" stroke="#231f20" stroke-width="0.18" text-anchor="start" fill="#231f20">3C-LNP(0.43 mg/kg)</text>
<circle cx="167.80" cy="556.0" r="1.7" fill="none" stroke="#f5823a" stroke-width="0.9"/>
<text x="174.40" y="558.70" font-size="7.7" stroke="#231f20" stroke-width="0.18" text-anchor="start" fill="#231f20">3C-LNP(0.65 mg/kg)</text>
<path d="M177.40 583.10V587.10M177.40 585.10H238.30M238.30 583.10V587.10" stroke="#444" stroke-width="1" fill="none"/>
<text x="206.65" y="581.10" font-size="8.0" stroke="#231f20" stroke-width="0.18" text-anchor="middle" fill="#231f20">n.s.</text>
<path d="M177.40 594.00V598.00M177.40 596.00H207.60M207.60 594.00V598.00" stroke="#444" stroke-width="1" fill="none"/>
<text x="191.30" y="592.00" font-size="8.0" stroke="#231f20" stroke-width="0.18" text-anchor="middle" fill="#231f20">n.s.</text>
<line x1="295.30" y1="568.40" x2="295.30" y2="669.80" stroke="#333" stroke-width="0.9"/>
<line x1="294.90" y1="669.40" x2="395.60" y2="669.40" stroke="#333" stroke-width="0.9"/>
<line x1="291.30" y1="669.40" x2="295.30" y2="669.40" stroke="#333" stroke-width="1.0"/>
<text x="290.50" y="672.60" font-size="8.85" stroke="#231f20" stroke-width="0.18" text-anchor="end" fill="#231f20">40</text>
<line x1="291.30" y1="649.26" x2="295.30" y2="649.26" stroke="#333" stroke-width="1.0"/>
<text x="290.50" y="652.46" font-size="8.85" stroke="#231f20" stroke-width="0.18" text-anchor="end" fill="#231f20">60</text>
<line x1="291.30" y1="629.12" x2="295.30" y2="629.12" stroke="#333" stroke-width="1.0"/>
<text x="290.50" y="632.32" font-size="8.85" stroke="#231f20" stroke-width="0.18" text-anchor="end" fill="#231f20">80</text>
<line x1="291.30" y1="608.98" x2="295.30" y2="608.98" stroke="#333" stroke-width="1.0"/>
<text x="290.50" y="612.18" font-size="8.85" stroke="#231f20" stroke-width="0.18" text-anchor="end" fill="#231f20">100</text>
<line x1="291.30" y1="588.84" x2="295.30" y2="588.84" stroke="#333" stroke-width="1.0"/>
<text x="290.50" y="592.04" font-size="8.85" stroke="#231f20" stroke-width="0.18" text-anchor="end" fill="#231f20">120</text>
<line x1="291.30" y1="568.70" x2="295.30" y2="568.70" stroke="#333" stroke-width="1.0"/>
<text x="290.50" y="571.90" font-size="8.85" stroke="#231f20" stroke-width="0.18" text-anchor="end" fill="#231f20">140</text>
<line x1="345.20" y1="669.40" x2="345.20" y2="673.60" stroke="#333" stroke-width="0.9"/>
<text x="345.20" y="683.30" font-size="8.2" font-weight="bold" stroke="#231f20" stroke-width="0.12" text-anchor="middle" fill="#231f20">ALP</text>
<path d="M306.60 669.40V613.81H324.80V669.40" fill="none" stroke="#3596b0" stroke-width="1.3"/>
<path d="M315.70 608.98V618.04M311.00 608.98H320.40M311.00 618.04H320.40" stroke="#3596b0" stroke-width="1.1" fill="none"/>
<circle cx="315.70" cy="604.95" r="1.75" fill="#fff" stroke="#3596b0" stroke-width="0.9"/>
<circle cx="315.70" cy="618.04" r="1.75" fill="#fff" stroke="#3596b0" stroke-width="0.9"/>
<circle cx="321.20" cy="615.02" r="1.75" fill="#fff" stroke="#3596b0" stroke-width="0.9"/>
<path d="M336.10 669.40V606.16H354.50V669.40" fill="none" stroke="#f0222e" stroke-width="1.3"/>
<path d="M345.30 604.95V606.97M340.60 604.95H350.00M340.60 606.97H350.00" stroke="#f0222e" stroke-width="1.1" fill="none"/>
<circle cx="338.80" cy="606.46" r="1.75" fill="#fff" stroke="#f0222e" stroke-width="0.9"/>
<circle cx="345.30" cy="604.45" r="1.75" fill="#fff" stroke="#f0222e" stroke-width="0.9"/>
<circle cx="351.60" cy="605.96" r="1.75" fill="#fff" stroke="#f0222e" stroke-width="0.9"/>
<path d="M365.80 669.40V609.99H384.20V669.40" fill="none" stroke="#f5823a" stroke-width="1.3"/>
<path d="M375.00 602.43V616.03M370.30 602.43H379.70M370.30 616.03H379.70" stroke="#f5823a" stroke-width="1.1" fill="none"/>
<circle cx="375.00" cy="597.90" r="1.75" fill="#fff" stroke="#f5823a" stroke-width="0.9"/>
<circle cx="375.00" cy="608.98" r="1.75" fill="#fff" stroke="#f5823a" stroke-width="0.9"/>
<circle cx="375.00" cy="621.06" r="1.75" fill="#fff" stroke="#f5823a" stroke-width="0.9"/>
<circle cx="305.40" cy="537.9" r="1.7" fill="none" stroke="#3596b0" stroke-width="0.9"/>
<text x="312.00" y="540.60" font-size="7.7" stroke="#231f20" stroke-width="0.18" text-anchor="start" fill="#231f20">PBS</text>
<circle cx="305.40" cy="546.9" r="1.7" fill="none" stroke="#f0222e" stroke-width="0.9"/>
<text x="312.00" y="549.60" font-size="7.7" stroke="#231f20" stroke-width="0.18" text-anchor="start" fill="#231f20">3C-LNP(0.43 mg/kg)</text>
<circle cx="305.40" cy="556.0" r="1.7" fill="none" stroke="#f5823a" stroke-width="0.9"/>
<text x="312.00" y="558.70" font-size="7.7" stroke="#231f20" stroke-width="0.18" text-anchor="start" fill="#231f20">3C-LNP(0.65 mg/kg)</text>
<path d="M315.40 583.10V587.10M315.40 585.10H376.60M376.60 583.10V587.10" stroke="#444" stroke-width="1" fill="none"/>
<text x="344.80" y="581.10" font-size="8.0" stroke="#231f20" stroke-width="0.18" text-anchor="middle" fill="#231f20">n.s.</text>
<path d="M315.40 594.00V598.00M315.40 596.00H345.70M345.70 594.00V598.00" stroke="#444" stroke-width="1" fill="none"/>
<text x="329.35" y="592.00" font-size="8.0" stroke="#231f20" stroke-width="0.18" text-anchor="middle" fill="#231f20">n.s.</text>
<text x="7.90" y="617.60" font-size="8.4" font-weight="bold" stroke="#231f20" stroke-width="0.12" text-anchor="middle" fill="#231f20" transform="rotate(-90 7.9 617.6)">U/L</text>
<text x="138.60" y="619.20" font-size="8.4" font-weight="bold" stroke="#231f20" stroke-width="0.12" text-anchor="middle" fill="#231f20" transform="rotate(-90 138.6 619.2)">U/L</text>
<text x="273.60" y="619.50" font-size="8.4" font-weight="bold" stroke="#231f20" stroke-width="0.12" text-anchor="middle" fill="#231f20" transform="rotate(-90 273.6 619.5)">U/L</text>
<line x1="431.30" y1="559.40" x2="431.30" y2="660.50" stroke="#333" stroke-width="1.1"/>
<line x1="431.00" y1="660.00" x2="674.40" y2="660.00" stroke="#333" stroke-width="1.1"/>
<line x1="427.90" y1="660.20" x2="431.30" y2="660.20" stroke="#333" stroke-width="1.0"/>
<line x1="429.30" y1="651.30" x2="431.30" y2="651.30" stroke="#333" stroke-width="1.0"/>
<line x1="427.90" y1="647.60" x2="431.30" y2="647.60" stroke="#333" stroke-width="1.0"/>
<line x1="429.30" y1="638.70" x2="431.30" y2="638.70" stroke="#333" stroke-width="1.0"/>
<line x1="427.90" y1="635.00" x2="431.30" y2="635.00" stroke="#333" stroke-width="1.0"/>
<line x1="429.30" y1="626.10" x2="431.30" y2="626.10" stroke="#333" stroke-width="1.0"/>
<line x1="427.90" y1="622.40" x2="431.30" y2="622.40" stroke="#333" stroke-width="1.0"/>
<line x1="429.30" y1="613.50" x2="431.30" y2="613.50" stroke="#333" stroke-width="1.0"/>
<line x1="427.90" y1="609.80" x2="431.30" y2="609.80" stroke="#333" stroke-width="1.0"/>
<line x1="429.30" y1="600.90" x2="431.30" y2="600.90" stroke="#333" stroke-width="1.0"/>
<line x1="427.90" y1="597.20" x2="431.30" y2="597.20" stroke="#333" stroke-width="1.0"/>
<line x1="429.30" y1="588.30" x2="431.30" y2="588.30" stroke="#333" stroke-width="1.0"/>
<line x1="427.90" y1="584.60" x2="431.30" y2="584.60" stroke="#333" stroke-width="1.0"/>
<line x1="429.30" y1="575.70" x2="431.30" y2="575.70" stroke="#333" stroke-width="1.0"/>
<line x1="427.90" y1="572.00" x2="431.30" y2="572.00" stroke="#333" stroke-width="1.0"/>
<line x1="427.90" y1="559.40" x2="431.30" y2="559.40" stroke="#333" stroke-width="1.0"/>
<text x="427.6" y="662.06" font-size="8.0" text-anchor="end" fill="#231f20"><tspan stroke="#231f20" stroke-width="0.18">10</tspan><tspan dy="-3.1" font-size="4.6" fill="#555">0</tspan></text>
<text x="427.6" y="649.99" font-size="8.0" text-anchor="end" fill="#231f20"><tspan stroke="#231f20" stroke-width="0.18">10</tspan><tspan dy="-3.1" font-size="4.6" fill="#555">2</tspan></text>
<text x="427.6" y="637.92" font-size="8.0" text-anchor="end" fill="#231f20"><tspan stroke="#231f20" stroke-width="0.18">10</tspan><tspan dy="-3.1" font-size="4.6" fill="#555">4</tspan></text>
<text x="427.6" y="625.85" font-size="8.0" text-anchor="end" fill="#231f20"><tspan stroke="#231f20" stroke-width="0.18">10</tspan><tspan dy="-3.1" font-size="4.6" fill="#555">6</tspan></text>
<text x="427.6" y="613.78" font-size="8.0" text-anchor="end" fill="#231f20"><tspan stroke="#231f20" stroke-width="0.18">10</tspan><tspan dy="-3.1" font-size="4.6" fill="#555">8</tspan></text>
<text x="427.6" y="601.71" font-size="8.0" text-anchor="end" fill="#231f20"><tspan stroke="#231f20" stroke-width="0.18">10</tspan><tspan dy="-3.1" font-size="4.6" fill="#555">10</tspan></text>
<text x="427.6" y="589.64" font-size="8.0" text-anchor="end" fill="#231f20"><tspan stroke="#231f20" stroke-width="0.18">10</tspan><tspan dy="-3.1" font-size="4.6" fill="#555">12</tspan></text>
<text x="427.6" y="577.57" font-size="8.0" text-anchor="end" fill="#231f20"><tspan stroke="#231f20" stroke-width="0.18">10</tspan><tspan dy="-3.1" font-size="4.6" fill="#555">14</tspan></text>
<text x="427.6" y="565.50" font-size="8.0" text-anchor="end" fill="#231f20"><tspan stroke="#231f20" stroke-width="0.18">10</tspan><tspan dy="-3.1" font-size="4.6" fill="#555">16</tspan></text>
<text x="407.00" y="610.70" font-size="8.3" font-weight="bold" stroke="#231f20" stroke-width="0.12" text-anchor="middle" fill="#231f20" transform="rotate(-90 407.0 610.7)">Cells/L</text>
<line x1="447.60" y1="660.00" x2="447.60" y2="663.80" stroke="#333" stroke-width="0.9"/>
<path d="M435.00 660V604.50H441.00V660" fill="none" stroke="#3596b0" stroke-width="1.2"/>
<circle cx="436.00" cy="604.50" r="1.35" fill="#fff" stroke="#3596b0" stroke-width="0.9"/>
<circle cx="438.00" cy="604.00" r="1.35" fill="#fff" stroke="#3596b0" stroke-width="0.9"/>
<circle cx="440.00" cy="604.40" r="1.35" fill="#fff" stroke="#3596b0" stroke-width="0.9"/>
<path d="M444.40 660V604.00H450.40V660" fill="none" stroke="#f0222e" stroke-width="1.2"/>
<circle cx="445.40" cy="604.00" r="1.35" fill="#fff" stroke="#f0222e" stroke-width="0.9"/>
<circle cx="447.40" cy="603.50" r="1.35" fill="#fff" stroke="#f0222e" stroke-width="0.9"/>
<circle cx="449.40" cy="603.90" r="1.35" fill="#fff" stroke="#f0222e" stroke-width="0.9"/>
<path d="M453.60 660V603.10H459.60V660" fill="none" stroke="#f5823a" stroke-width="1.2"/>
<circle cx="454.60" cy="603.10" r="1.35" fill="#fff" stroke="#f5823a" stroke-width="0.9"/>
<circle cx="456.60" cy="602.60" r="1.35" fill="#fff" stroke="#f5823a" stroke-width="0.9"/>
<circle cx="458.60" cy="603.00" r="1.35" fill="#fff" stroke="#f5823a" stroke-width="0.9"/>
<text x="445.60" y="672.60" font-size="8.0" stroke="#231f20" stroke-width="0.18" text-anchor="end" fill="#231f20" transform="rotate(-45 445.6 672.6)">Neutrophils</text>
<line x1="482.60" y1="660.00" x2="482.60" y2="663.80" stroke="#333" stroke-width="0.9"/>
<path d="M470.00 660V610.00H476.00V660" fill="none" stroke="#3596b0" stroke-width="1.2"/>
<circle cx="471.00" cy="610.00" r="1.35" fill="#fff" stroke="#3596b0" stroke-width="0.9"/>
<circle cx="473.00" cy="609.50" r="1.35" fill="#fff" stroke="#3596b0" stroke-width="0.9"/>
<circle cx="475.00" cy="609.90" r="1.35" fill="#fff" stroke="#3596b0" stroke-width="0.9"/>
<path d="M479.40 660V608.20H485.40V660" fill="none" stroke="#f0222e" stroke-width="1.2"/>
<circle cx="480.40" cy="608.20" r="1.35" fill="#fff" stroke="#f0222e" stroke-width="0.9"/>
<circle cx="482.40" cy="607.70" r="1.35" fill="#fff" stroke="#f0222e" stroke-width="0.9"/>
<circle cx="484.40" cy="608.10" r="1.35" fill="#fff" stroke="#f0222e" stroke-width="0.9"/>
<path d="M488.60 660V608.50H494.60V660" fill="none" stroke="#f5823a" stroke-width="1.2"/>
<circle cx="489.60" cy="608.50" r="1.35" fill="#fff" stroke="#f5823a" stroke-width="0.9"/>
<circle cx="491.60" cy="608.00" r="1.35" fill="#fff" stroke="#f5823a" stroke-width="0.9"/>
<circle cx="493.60" cy="608.40" r="1.35" fill="#fff" stroke="#f5823a" stroke-width="0.9"/>
<text x="480.60" y="672.60" font-size="8.0" stroke="#231f20" stroke-width="0.18" text-anchor="end" fill="#231f20" transform="rotate(-45 480.6 672.6)">Monocytes</text>
<line x1="517.60" y1="660.00" x2="517.60" y2="663.80" stroke="#333" stroke-width="0.9"/>
<path d="M505.00 660V601.50H511.00V660" fill="none" stroke="#3596b0" stroke-width="1.2"/>
<circle cx="506.00" cy="601.50" r="1.35" fill="#fff" stroke="#3596b0" stroke-width="0.9"/>
<circle cx="508.00" cy="601.00" r="1.35" fill="#fff" stroke="#3596b0" stroke-width="0.9"/>
<circle cx="510.00" cy="601.40" r="1.35" fill="#fff" stroke="#3596b0" stroke-width="0.9"/>
<path d="M514.40 660V600.00H520.40V660" fill="none" stroke="#f0222e" stroke-width="1.2"/>
<circle cx="515.40" cy="600.00" r="1.35" fill="#fff" stroke="#f0222e" stroke-width="0.9"/>
<circle cx="517.40" cy="599.50" r="1.35" fill="#fff" stroke="#f0222e" stroke-width="0.9"/>
<circle cx="519.40" cy="599.90" r="1.35" fill="#fff" stroke="#f0222e" stroke-width="0.9"/>
<path d="M523.60 660V599.10H529.60V660" fill="none" stroke="#f5823a" stroke-width="1.2"/>
<circle cx="524.60" cy="599.10" r="1.35" fill="#fff" stroke="#f5823a" stroke-width="0.9"/>
<circle cx="526.60" cy="598.60" r="1.35" fill="#fff" stroke="#f5823a" stroke-width="0.9"/>
<circle cx="528.60" cy="599.00" r="1.35" fill="#fff" stroke="#f5823a" stroke-width="0.9"/>
<text x="515.60" y="672.60" font-size="8.0" stroke="#231f20" stroke-width="0.18" text-anchor="end" fill="#231f20" transform="rotate(-45 515.6 672.6)">Lymphocytes</text>
<line x1="552.60" y1="660.00" x2="552.60" y2="663.80" stroke="#333" stroke-width="0.9"/>
<path d="M540.00 660V611.80H546.00V660" fill="none" stroke="#3596b0" stroke-width="1.2"/>
<circle cx="541.00" cy="611.80" r="1.35" fill="#fff" stroke="#3596b0" stroke-width="0.9"/>
<circle cx="543.00" cy="611.30" r="1.35" fill="#fff" stroke="#3596b0" stroke-width="0.9"/>
<circle cx="545.00" cy="611.70" r="1.35" fill="#fff" stroke="#3596b0" stroke-width="0.9"/>
<path d="M549.40 660V611.30H555.40V660" fill="none" stroke="#f0222e" stroke-width="1.2"/>
<circle cx="550.40" cy="611.30" r="1.35" fill="#fff" stroke="#f0222e" stroke-width="0.9"/>
<circle cx="552.40" cy="610.80" r="1.35" fill="#fff" stroke="#f0222e" stroke-width="0.9"/>
<circle cx="554.40" cy="611.20" r="1.35" fill="#fff" stroke="#f0222e" stroke-width="0.9"/>
<path d="M558.60 660V609.10H564.60V660" fill="none" stroke="#f5823a" stroke-width="1.2"/>
<circle cx="559.60" cy="609.10" r="1.35" fill="#fff" stroke="#f5823a" stroke-width="0.9"/>
<circle cx="561.60" cy="608.60" r="1.35" fill="#fff" stroke="#f5823a" stroke-width="0.9"/>
<circle cx="563.60" cy="609.00" r="1.35" fill="#fff" stroke="#f5823a" stroke-width="0.9"/>
<text x="550.60" y="672.60" font-size="8.0" stroke="#231f20" stroke-width="0.18" text-anchor="end" fill="#231f20" transform="rotate(-45 550.6 672.6)">Eosinophils</text>
<line x1="587.60" y1="660.00" x2="587.60" y2="663.80" stroke="#333" stroke-width="0.9"/>
<path d="M575.00 660V583.80H581.00V660" fill="none" stroke="#3596b0" stroke-width="1.2"/>
<circle cx="576.00" cy="583.80" r="1.35" fill="#fff" stroke="#3596b0" stroke-width="0.9"/>
<circle cx="578.00" cy="583.30" r="1.35" fill="#fff" stroke="#3596b0" stroke-width="0.9"/>
<circle cx="580.00" cy="583.70" r="1.35" fill="#fff" stroke="#3596b0" stroke-width="0.9"/>
<path d="M584.40 660V583.80H590.40V660" fill="none" stroke="#f0222e" stroke-width="1.2"/>
<circle cx="585.40" cy="583.80" r="1.35" fill="#fff" stroke="#f0222e" stroke-width="0.9"/>
<circle cx="587.40" cy="583.30" r="1.35" fill="#fff" stroke="#f0222e" stroke-width="0.9"/>
<circle cx="589.40" cy="583.70" r="1.35" fill="#fff" stroke="#f0222e" stroke-width="0.9"/>
<path d="M593.60 660V585.50H599.60V660" fill="none" stroke="#f5823a" stroke-width="1.2"/>
<circle cx="594.60" cy="585.50" r="1.35" fill="#fff" stroke="#f5823a" stroke-width="0.9"/>
<circle cx="596.60" cy="585.00" r="1.35" fill="#fff" stroke="#f5823a" stroke-width="0.9"/>
<circle cx="598.60" cy="585.40" r="1.35" fill="#fff" stroke="#f5823a" stroke-width="0.9"/>
<text x="585.60" y="672.60" font-size="8.0" stroke="#231f20" stroke-width="0.18" text-anchor="end" fill="#231f20" transform="rotate(-45 585.6 672.6)">Platelets</text>
<line x1="622.60" y1="660.00" x2="622.60" y2="663.80" stroke="#333" stroke-width="0.9"/>
<path d="M610.00 660V600.50H616.00V660" fill="none" stroke="#3596b0" stroke-width="1.2"/>
<circle cx="611.00" cy="600.50" r="1.35" fill="#fff" stroke="#3596b0" stroke-width="0.9"/>
<circle cx="613.00" cy="600.00" r="1.35" fill="#fff" stroke="#3596b0" stroke-width="0.9"/>
<circle cx="615.00" cy="600.40" r="1.35" fill="#fff" stroke="#3596b0" stroke-width="0.9"/>
<path d="M619.40 660V599.40H625.40V660" fill="none" stroke="#f0222e" stroke-width="1.2"/>
<circle cx="620.40" cy="599.40" r="1.35" fill="#fff" stroke="#f0222e" stroke-width="0.9"/>
<circle cx="622.40" cy="598.90" r="1.35" fill="#fff" stroke="#f0222e" stroke-width="0.9"/>
<circle cx="624.40" cy="599.30" r="1.35" fill="#fff" stroke="#f0222e" stroke-width="0.9"/>
<path d="M628.60 660V598.70H634.60V660" fill="none" stroke="#f5823a" stroke-width="1.2"/>
<circle cx="629.60" cy="598.70" r="1.35" fill="#fff" stroke="#f5823a" stroke-width="0.9"/>
<circle cx="631.60" cy="598.20" r="1.35" fill="#fff" stroke="#f5823a" stroke-width="0.9"/>
<circle cx="633.60" cy="598.60" r="1.35" fill="#fff" stroke="#f5823a" stroke-width="0.9"/>
<text x="620.60" y="672.60" font-size="8.0" stroke="#231f20" stroke-width="0.18" text-anchor="end" fill="#231f20" transform="rotate(-45 620.6 672.6)">White blood cell</text>
<line x1="657.60" y1="660.00" x2="657.60" y2="663.80" stroke="#333" stroke-width="0.9"/>
<path d="M645.00 660V578.60H651.00V660" fill="none" stroke="#3596b0" stroke-width="1.2"/>
<circle cx="646.00" cy="578.60" r="1.35" fill="#fff" stroke="#3596b0" stroke-width="0.9"/>
<circle cx="648.00" cy="578.10" r="1.35" fill="#fff" stroke="#3596b0" stroke-width="0.9"/>
<circle cx="650.00" cy="578.50" r="1.35" fill="#fff" stroke="#3596b0" stroke-width="0.9"/>
<path d="M654.40 660V578.60H660.40V660" fill="none" stroke="#f0222e" stroke-width="1.2"/>
<circle cx="655.40" cy="578.60" r="1.35" fill="#fff" stroke="#f0222e" stroke-width="0.9"/>
<circle cx="657.40" cy="578.10" r="1.35" fill="#fff" stroke="#f0222e" stroke-width="0.9"/>
<circle cx="659.40" cy="578.50" r="1.35" fill="#fff" stroke="#f0222e" stroke-width="0.9"/>
<path d="M663.60 660V578.60H669.60V660" fill="none" stroke="#f5823a" stroke-width="1.2"/>
<circle cx="664.60" cy="578.60" r="1.35" fill="#fff" stroke="#f5823a" stroke-width="0.9"/>
<circle cx="666.60" cy="578.10" r="1.35" fill="#fff" stroke="#f5823a" stroke-width="0.9"/>
<circle cx="668.60" cy="578.50" r="1.35" fill="#fff" stroke="#f5823a" stroke-width="0.9"/>
<text x="655.60" y="672.60" font-size="8.0" stroke="#231f20" stroke-width="0.18" text-anchor="end" fill="#231f20" transform="rotate(-45 655.6 672.6)">Red blood cell</text>
<circle cx="439.5" cy="532.9" r="1.7" fill="none" stroke="#3596b0" stroke-width="0.9"/>
<text x="445.40" y="535.70" font-size="8.1" stroke="#231f20" stroke-width="0.18" text-anchor="start" fill="#231f20">PBS</text>
<circle cx="439.5" cy="544.2" r="1.7" fill="none" stroke="#f0222e" stroke-width="0.9"/>
<text x="445.40" y="547.00" font-size="8.1" stroke="#231f20" stroke-width="0.18" text-anchor="start" fill="#231f20">3C-LNP(0.43 mg/kg)</text>
<circle cx="439.5" cy="555.4" r="1.7" fill="none" stroke="#f5823a" stroke-width="0.9"/>
<text x="445.40" y="558.20" font-size="8.1" stroke="#231f20" stroke-width="0.18" text-anchor="start" fill="#231f20">3C-LNP(0.65 mg/kg)</text>
<path d="M548.6 531.3V545.1M547.0 531.3H550.2M547.0 545.1H550.2" stroke="#444" stroke-width="1" fill="none"/>
<text x="551.50" y="540.20" font-size="9.4" stroke="#231f20" stroke-width="0.18" text-anchor="start" fill="#231f20">n.s.</text>
<path d="M578.0 531.3V556.9M576.4 531.3H579.6M576.4 556.9H579.6" stroke="#444" stroke-width="1" fill="none"/>
<text x="580.90" y="545.90" font-size="9.4" stroke="#231f20" stroke-width="0.18" text-anchor="start" fill="#231f20">n.s.</text>
</svg></body></html>
